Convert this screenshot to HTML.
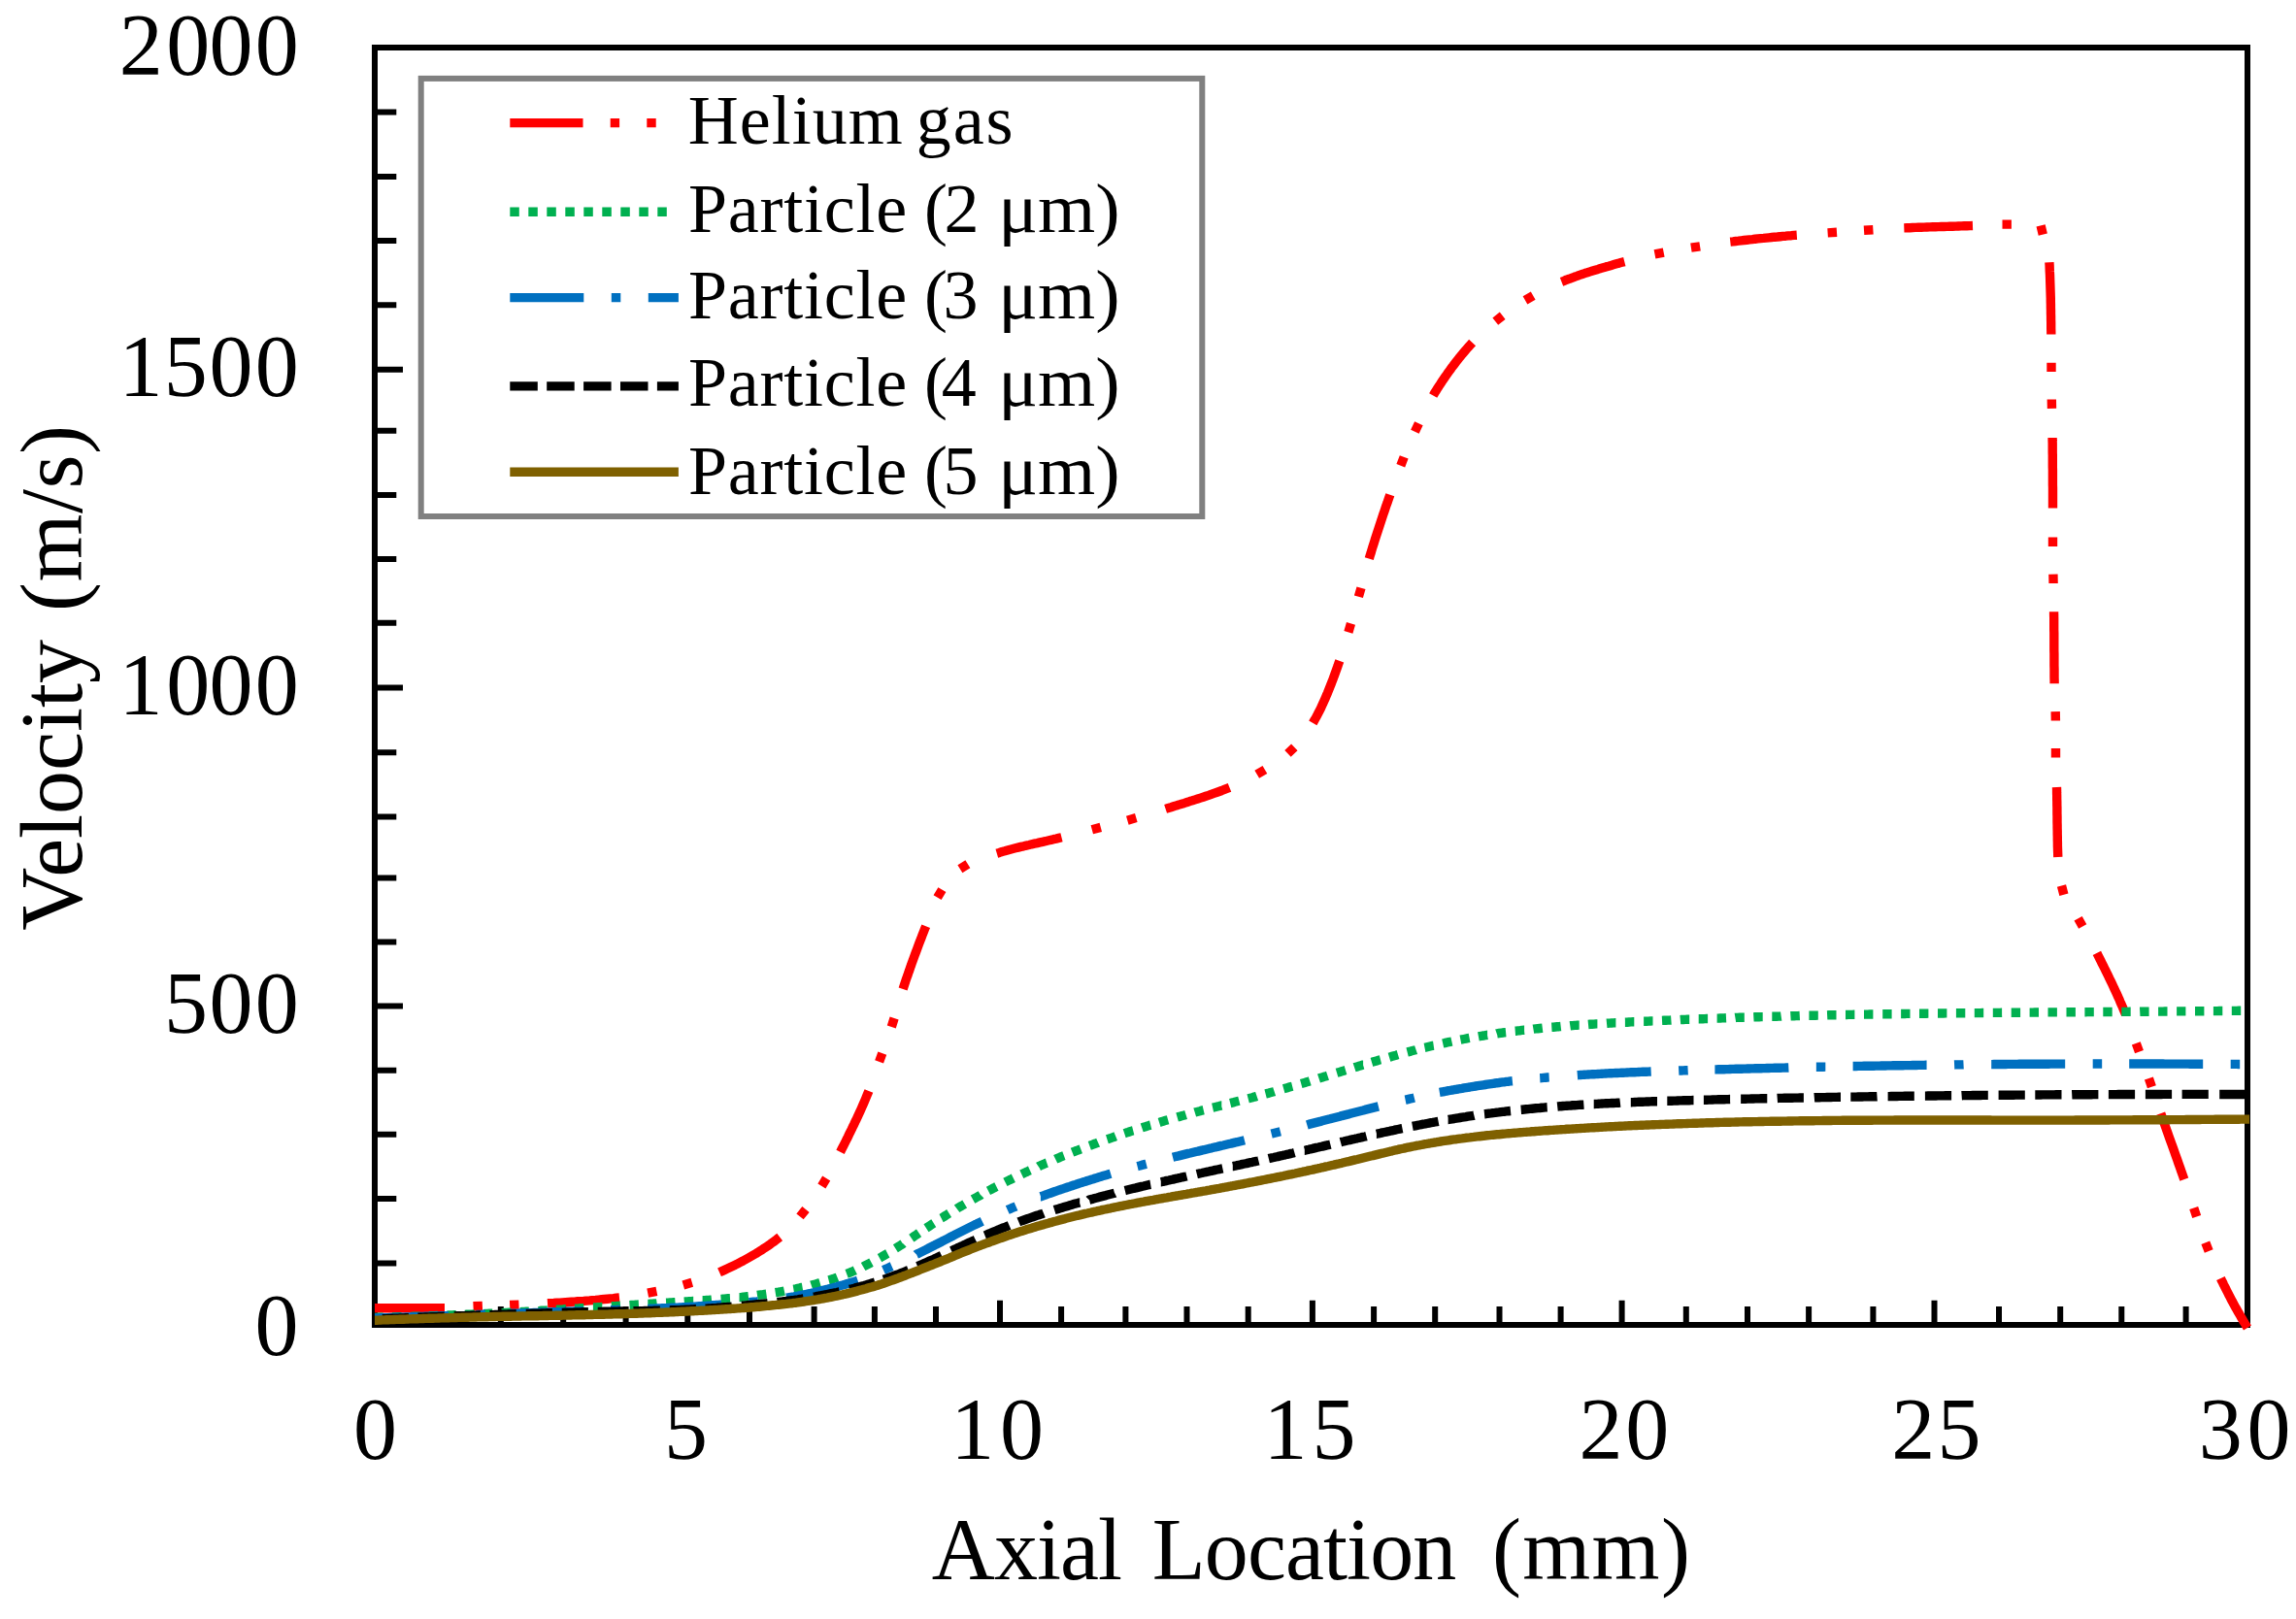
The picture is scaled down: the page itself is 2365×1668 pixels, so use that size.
<!DOCTYPE html>
<html lang="en">
<head>
<meta charset="utf-8">
<title>Velocity vs axial location</title>
<style>html,body{margin:0;padding:0;background:#fff}svg{display:block}</style>
</head>
<body>
<svg width="2365" height="1668" viewBox="0 0 2365 1668" role="img" aria-label="Velocity versus axial location">
<rect x="0" y="0" width="2365" height="1668" fill="#fff"/>
<g id="frame" fill="none" stroke="#000" stroke-width="6">
<rect x="386.0" y="49.0" width="1929.0" height="1316.0"/>
<path d="M386.0 115.6H408.3M386.0 182.0H408.3M386.0 247.9H408.3M386.0 314.2H408.3M386.0 380.7H415.0M386.0 443.7H408.3M386.0 510.0H408.3M386.0 575.9H408.3M386.0 641.8H408.3M386.0 708.4H415.0M386.0 775.2H408.3M386.0 841.5H408.3M386.0 904.5H408.3M386.0 970.5H408.3M386.0 1036.4H415.0M386.0 1102.8H408.3M386.0 1168.7H408.3M386.0 1235.0H408.3M386.0 1301.4H408.3M451.0 1365.0V1346.0M515.8 1365.0V1346.0M580.2 1365.0V1346.0M644.6 1365.0V1346.0M708.3 1365.0V1339.8M772.0 1365.0V1346.0M838.6 1365.0V1346.0M900.9 1365.0V1346.0M964.0 1365.0V1346.0M1030.0 1365.0V1339.8M1093.1 1365.0V1346.0M1159.4 1365.0V1346.0M1222.5 1365.0V1346.0M1285.7 1365.0V1346.0M1351.9 1365.0V1339.8M1415.1 1365.0V1346.0M1478.2 1365.0V1346.0M1544.5 1365.0V1346.0M1607.6 1365.0V1346.0M1670.6 1365.0V1339.8M1736.8 1365.0V1346.0M1800.0 1365.0V1346.0M1863.1 1365.0V1346.0M1929.4 1365.0V1346.0M1992.5 1365.0V1339.8M2059.0 1365.0V1346.0M2122.2 1365.0V1346.0M2185.3 1365.0V1346.0M2251.6 1365.0V1346.0"/>
</g>
<g id="curves" fill="none" stroke-width="9.4" stroke-linejoin="round">
<path id="helium" stroke="#ff0000" d="M386.0 1347.8 L389.0 1347.8 L392.0 1347.8 L395.0 1347.8 L398.0 1347.8 L401.0 1347.8 L404.0 1347.8 L407.0 1347.8 L410.0 1347.8 L413.0 1347.8 L416.0 1347.8 L419.0 1347.8 L422.0 1347.8 L425.0 1347.7 L428.0 1347.7 L431.0 1347.7 L434.0 1347.7 L437.0 1347.7 L440.0 1347.7 L443.0 1347.7 L446.0 1347.7 L449.0 1347.6 L452.0 1347.6 L455.0 1347.6 L458.0 1347.6 M487.5 1345.8 L496.9 1345.4 M525.1 1344.5 L534.5 1344.1 M564.0 1342.8 L567.1 1342.6 L570.2 1342.5 L573.3 1342.3 L576.4 1342.1 L579.4 1341.9 L582.5 1341.7 L585.6 1341.5 L588.7 1341.3 L591.8 1341.1 L594.9 1340.8 L598.0 1340.6 L601.1 1340.4 L604.2 1340.1 L607.2 1339.9 L610.3 1339.6 L613.4 1339.4 L616.5 1339.1 L619.6 1338.8 L622.6 1338.5 L625.7 1338.2 L628.8 1337.9 L631.9 1337.6 L634.9 1337.2 L638.0 1336.9 M667.2 1332.2 L676.4 1330.4 M703.8 1323.9 L712.8 1321.3 M741.0 1310.8 L743.7 1309.6 L746.4 1308.4 L749.2 1307.1 L751.9 1305.8 L754.6 1304.5 L757.3 1303.2 L760.0 1301.8 L762.7 1300.4 L765.4 1299.0 L768.1 1297.5 L770.8 1296.0 L773.4 1294.5 L776.0 1293.0 L778.7 1291.5 L781.2 1289.9 L783.8 1288.3 L786.3 1286.6 L788.9 1285.0 L791.3 1283.3 L793.8 1281.6 L796.2 1279.8 L798.6 1278.1 L800.9 1276.3 L803.2 1274.5 M824.0 1253.4 L830.0 1246.0 M846.4 1222.0 L851.2 1214.0 M865.6 1186.8 L866.9 1184.2 L868.2 1181.6 L869.5 1179.1 L870.8 1176.5 L872.1 1173.9 L873.4 1171.3 L874.6 1168.7 L875.9 1166.1 L877.2 1163.5 L878.4 1160.9 L879.7 1158.3 L880.9 1155.7 L882.2 1153.1 L883.4 1150.5 L884.6 1147.8 L885.8 1145.2 L887.0 1142.6 L888.2 1139.9 L889.3 1137.3 L890.5 1134.6 L891.6 1132.0 L892.7 1129.3 L893.8 1126.7 L894.9 1124.0 M905.6 1093.9 L908.8 1085.1 M918.3 1058.0 L921.1 1049.0 M930.1 1019.0 L931.0 1016.3 L931.9 1013.5 L932.8 1010.8 L933.7 1008.1 L934.7 1005.4 L935.6 1002.7 L936.6 1000.0 L937.5 997.2 L938.5 994.5 L939.4 991.8 L940.4 989.1 L941.4 986.4 L942.4 983.7 L943.4 981.0 L944.4 978.3 L945.4 975.6 L946.4 972.9 L947.4 970.3 L948.5 967.6 L949.5 964.9 L950.5 962.2 L951.6 959.5 L952.6 956.9 L953.7 954.2 M965.6 924.7 L970.4 916.7 M988.9 895.3 L996.9 890.3 M1026.8 879.2 L1029.5 878.4 L1032.2 877.5 L1035.0 876.8 L1037.7 876.0 L1040.5 875.2 L1043.2 874.5 L1046.0 873.8 L1048.8 873.1 L1051.6 872.4 L1054.4 871.8 L1057.2 871.1 L1060.0 870.5 L1062.7 869.8 L1065.5 869.2 L1068.4 868.6 L1071.2 867.9 L1074.0 867.3 L1076.8 866.7 L1079.6 866.0 L1082.4 865.4 L1085.1 864.7 L1087.9 864.1 L1090.7 863.4 L1093.5 862.7 M1124.8 854.8 L1133.8 852.4 M1161.3 845.2 L1170.3 842.6 M1200.6 833.4 L1203.4 832.5 L1206.1 831.7 L1208.9 830.8 L1211.7 829.9 L1214.4 829.1 L1217.2 828.2 L1220.0 827.4 L1222.8 826.5 L1225.5 825.6 L1228.3 824.8 L1231.1 823.9 L1233.8 823.0 L1236.6 822.1 L1239.4 821.2 L1242.1 820.3 L1244.9 819.4 L1247.6 818.4 L1250.3 817.4 L1253.0 816.5 L1255.8 815.5 L1258.5 814.5 L1261.2 813.4 L1263.8 812.4 L1266.5 811.3 M1294.7 797.8 L1302.9 793.0 M1326.5 776.3 L1333.3 769.9 M1352.3 744.9 L1353.7 742.4 L1355.1 740.0 L1356.5 737.5 L1357.8 734.9 L1359.1 732.3 L1360.4 729.8 L1361.6 727.1 L1362.8 724.5 L1364.0 721.8 L1365.2 719.2 L1366.3 716.5 L1367.5 713.8 L1368.6 711.1 L1369.7 708.3 L1370.8 705.6 L1371.8 702.9 L1372.9 700.1 L1373.9 697.4 L1374.9 694.6 L1375.9 691.9 L1376.9 689.1 L1377.9 686.4 L1378.8 683.6 L1379.8 680.9 M1388.9 651.4 L1391.5 642.4 M1399.4 614.8 L1402.0 605.8 M1410.3 575.6 L1411.1 572.8 L1412.0 570.1 L1412.8 567.3 L1413.6 564.5 L1414.5 561.8 L1415.4 559.0 L1416.2 556.3 L1417.1 553.5 L1418.0 550.8 L1418.9 548.0 L1419.8 545.3 L1420.7 542.5 L1421.6 539.8 L1422.5 537.0 L1423.4 534.3 L1424.3 531.6 L1425.2 528.8 L1426.2 526.1 L1427.1 523.3 L1428.0 520.6 L1429.0 517.9 L1429.9 515.2 L1430.9 512.4 L1431.8 509.7 M1442.8 479.7 L1446.2 470.9 M1457.4 444.8 L1461.4 436.2 M1476.2 407.5 L1477.6 405.1 L1479.1 402.7 L1480.6 400.3 L1482.1 397.9 L1483.7 395.6 L1485.2 393.2 L1486.8 390.8 L1488.4 388.5 L1490.1 386.1 L1491.7 383.8 L1493.4 381.5 L1495.0 379.2 L1496.8 376.9 L1498.5 374.6 L1500.2 372.4 L1502.0 370.1 L1503.7 367.9 L1505.5 365.7 L1507.3 363.6 L1509.2 361.4 L1511.0 359.3 L1512.9 357.1 L1514.7 355.1 L1516.6 353.0 M1540.3 331.1 L1547.7 325.3 M1571.0 309.4 L1579.2 304.6 M1608.5 290.3 L1611.1 289.3 L1613.7 288.2 L1616.4 287.3 L1619.0 286.3 L1621.7 285.3 L1624.4 284.4 L1627.0 283.4 L1629.7 282.5 L1632.4 281.6 L1635.1 280.8 L1637.8 279.9 L1640.5 279.0 L1643.2 278.2 L1646.0 277.4 L1648.7 276.5 L1651.4 275.7 L1654.2 274.9 L1656.9 274.2 L1659.6 273.4 L1662.4 272.6 L1665.1 271.8 L1667.8 271.1 L1670.6 270.3 L1673.3 269.6 M1704.5 261.9 L1713.7 260.1 M1741.9 255.2 L1751.1 253.8 M1782.3 249.2 L1785.1 248.9 L1788.0 248.5 L1790.8 248.2 L1793.7 247.8 L1796.5 247.5 L1799.4 247.2 L1802.2 246.9 L1805.1 246.6 L1807.9 246.2 L1810.8 245.9 L1813.7 245.6 L1816.5 245.4 L1819.4 245.1 L1822.2 244.8 L1825.1 244.5 L1827.9 244.2 L1830.8 244.0 L1833.7 243.7 L1836.5 243.4 L1839.4 243.2 L1842.2 242.9 L1845.1 242.7 L1847.9 242.4 L1850.8 242.2 M1882.6 239.9 L1892.0 239.3 M1920.0 237.3 L1929.4 236.7 M1961.3 234.9 L1964.2 234.8 L1967.2 234.7 L1970.1 234.5 L1973.1 234.4 L1976.0 234.3 L1979.0 234.2 L1981.9 234.1 L1984.9 234.0 L1987.8 233.9 L1990.8 233.8 L1993.7 233.7 L1996.6 233.6 L1999.6 233.5 L2002.5 233.5 L2005.5 233.4 L2008.4 233.3 L2011.4 233.2 L2014.3 233.1 L2017.3 233.0 L2020.2 232.9 L2023.2 232.8 L2026.1 232.7 L2029.1 232.6 L2032.0 232.5 M2062.5 231.1 L2071.9 231.1 M2102.1 232.4 L2104.3 241.6 M2110.9 270.3 L2111.1 273.4 L2111.2 276.4 L2111.3 279.5 L2111.5 282.6 L2111.6 285.7 L2111.7 288.8 L2111.8 291.9 L2111.9 295.0 L2112.0 298.1 L2112.1 301.2 L2112.2 304.3 L2112.3 307.4 L2112.3 310.5 L2112.4 313.6 L2112.4 316.7 L2112.5 319.8 L2112.5 322.9 L2112.6 326.0 L2112.6 329.1 L2112.7 332.2 L2112.7 335.3 L2112.7 338.4 L2112.8 341.5 L2112.8 344.6 M2113.0 373.7 L2113.0 383.1 M2113.3 411.5 L2113.5 420.9 M2114.1 450.9 L2114.1 453.9 L2114.2 456.9 L2114.2 460.0 L2114.2 463.0 L2114.2 466.0 L2114.3 469.0 L2114.3 472.1 L2114.3 475.1 L2114.3 478.1 L2114.3 481.1 L2114.4 484.2 L2114.4 487.2 L2114.4 490.2 L2114.4 493.2 L2114.4 496.3 L2114.4 499.3 L2114.5 502.3 L2114.5 505.3 L2114.5 508.4 L2114.5 511.4 L2114.5 514.4 L2114.5 517.4 L2114.5 520.5 L2114.5 523.5 M2114.5 553.6 L2114.5 563.0 M2114.9 591.6 L2115.1 601.0 M2115.6 630.3 L2115.6 633.4 L2115.7 636.5 L2115.7 639.5 L2115.7 642.6 L2115.7 645.7 L2115.7 648.8 L2115.8 651.9 L2115.8 654.9 L2115.8 658.0 L2115.8 661.1 L2115.8 664.2 L2115.8 667.3 L2115.8 670.3 L2115.9 673.4 L2115.9 676.5 L2115.9 679.6 L2115.9 682.6 L2115.9 685.7 L2116.0 688.8 L2116.0 691.9 L2116.0 695.0 L2116.0 698.0 L2116.1 701.1 L2116.1 704.2 M2117.2 733.1 L2117.4 742.5 M2117.5 771.1 L2117.5 780.5 M2118.5 811.0 L2118.6 814.0 L2118.6 817.0 L2118.7 820.0 L2118.7 823.0 L2118.8 826.0 L2118.8 829.0 L2118.9 832.0 L2118.9 835.0 L2118.9 838.0 L2119.0 841.0 L2119.0 844.0 L2119.0 847.0 L2119.1 850.1 L2119.1 853.1 L2119.2 856.1 L2119.2 859.1 L2119.3 862.1 L2119.3 865.1 L2119.4 868.1 L2119.4 871.0 L2119.5 874.0 L2119.6 877.0 L2119.7 880.0 L2119.8 883.0 M2123.5 912.5 L2125.9 921.7 M2140.6 946.3 L2145.2 954.5 M2159.9 981.9 L2161.2 984.5 L2162.5 987.1 L2163.8 989.7 L2165.1 992.3 L2166.4 994.9 L2167.7 997.5 L2169.0 1000.1 L2170.3 1002.8 L2171.6 1005.4 L2172.8 1008.0 L2174.1 1010.6 L2175.4 1013.3 L2176.6 1015.9 L2177.8 1018.5 L2179.1 1021.2 L2180.3 1023.8 L2181.5 1026.5 L2182.7 1029.1 L2183.8 1031.8 L2185.0 1034.5 L2186.2 1037.2 L2187.3 1039.8 L2188.4 1042.5 L2189.5 1045.2 M2200.3 1074.8 L2203.5 1083.6 M2213.4 1110.9 L2216.4 1119.7 M2225.7 1147.1 L2226.7 1149.9 L2227.7 1152.8 L2228.7 1155.6 L2229.7 1158.4 L2230.7 1161.3 L2231.7 1164.1 L2232.7 1166.9 L2233.7 1169.8 L2234.7 1172.6 L2235.7 1175.4 L2236.8 1178.3 L2237.8 1181.1 L2238.8 1183.9 L2239.8 1186.8 L2240.8 1189.6 L2241.8 1192.4 L2242.8 1195.2 L2243.8 1198.1 L2244.8 1200.9 L2245.8 1203.7 L2246.8 1206.6 L2247.8 1209.4 L2248.8 1212.3 L2249.8 1215.1 M2259.7 1244.6 L2262.7 1253.6 M2271.8 1280.2 L2275.2 1289.0 M2287.4 1317.0 L2288.4 1319.2 L2289.5 1321.3 L2290.5 1323.5 L2291.6 1325.7 L2292.7 1327.8 L2293.8 1330.0 L2294.9 1332.1 L2296.0 1334.3 L2297.1 1336.4 L2298.2 1338.6 L2299.3 1340.7 L2300.5 1342.8 L2301.6 1345.0 L2302.8 1347.1 L2304.0 1349.2 L2305.2 1351.3 L2306.4 1353.4 L2307.6 1355.5 L2308.8 1357.6 L2310.0 1359.7 L2311.2 1361.8 L2312.5 1363.9 L2313.7 1365.9 L2315.0 1368.0"/>
<path id="p2" stroke="#00b050" d="M386.0 1357.4 L388.0 1357.4 L390.0 1357.3 L392.0 1357.3 L394.0 1357.2 L394.7 1357.2 M404.1 1357.0 L406.0 1356.9 L408.0 1356.9 L410.0 1356.8 L412.0 1356.7 L413.5 1356.7 M422.9 1356.4 L424.0 1356.4 L426.0 1356.3 L428.0 1356.3 L430.0 1356.2 L432.0 1356.1 L432.3 1356.1 M441.7 1355.8 L442.0 1355.8 L444.0 1355.7 L446.0 1355.6 L448.0 1355.6 L450.0 1355.5 L451.1 1355.5 M460.5 1355.1 L462.0 1355.0 L464.0 1355.0 L466.0 1354.9 L468.0 1354.8 L469.9 1354.7 M479.3 1354.4 L480.0 1354.3 L482.0 1354.2 L484.0 1354.2 L486.0 1354.1 L488.0 1354.0 L488.7 1354.0 M498.1 1353.6 L500.0 1353.5 L502.0 1353.4 L504.0 1353.3 L506.0 1353.2 L507.5 1353.1 M516.9 1352.7 L518.0 1352.6 L520.0 1352.5 L522.0 1352.4 L524.0 1352.3 L526.0 1352.2 L526.3 1352.2 M535.7 1351.7 L536.0 1351.7 L538.0 1351.5 L540.0 1351.4 L542.0 1351.3 L544.0 1351.2 L545.1 1351.1 M554.5 1350.6 L556.0 1350.5 L558.0 1350.3 L560.0 1350.2 L562.0 1350.1 L563.9 1350.0 M573.3 1349.4 L574.0 1349.3 L576.0 1349.2 L578.0 1349.1 L580.0 1349.0 L582.0 1348.8 L582.7 1348.8 M592.1 1348.2 L594.0 1348.1 L596.0 1348.0 L598.0 1347.8 L600.0 1347.7 L601.5 1347.6 M610.9 1347.0 L612.0 1347.0 L614.0 1346.9 L616.0 1346.7 L618.0 1346.6 L620.0 1346.5 L620.3 1346.5 M629.7 1345.8 L630.0 1345.8 L632.0 1345.7 L634.0 1345.6 L636.0 1345.4 L638.0 1345.3 L639.1 1345.2 M648.5 1344.6 L650.0 1344.5 L652.0 1344.4 L654.0 1344.3 L656.0 1344.1 L657.9 1344.0 M667.3 1343.4 L668.0 1343.4 L670.0 1343.2 L672.0 1343.1 L674.0 1343.0 L676.0 1342.9 L676.7 1342.8 M686.1 1342.2 L688.0 1342.1 L690.0 1342.0 L692.0 1341.9 L694.0 1341.7 L695.5 1341.6 M704.8 1341.1 L706.0 1341.0 L708.0 1340.9 L710.0 1340.7 L712.0 1340.6 L714.0 1340.5 L714.2 1340.5 M723.6 1339.8 L724.0 1339.8 L726.0 1339.7 L728.0 1339.5 L730.0 1339.4 L732.0 1339.2 L733.0 1339.1 M742.6 1338.4 L744.0 1338.3 L746.0 1338.1 L748.0 1337.9 L750.0 1337.7 L752.0 1337.6 M761.5 1336.6 L762.0 1336.6 L764.0 1336.4 L766.0 1336.1 L768.0 1335.9 L770.0 1335.7 L770.9 1335.6 M780.0 1334.5 L782.0 1334.2 L784.0 1333.9 L786.0 1333.7 L788.0 1333.4 L789.4 1333.2 M798.7 1331.7 L800.0 1331.5 L802.0 1331.2 L804.0 1330.8 L806.0 1330.5 L807.9 1330.1 M817.4 1328.3 L818.0 1328.2 L820.0 1327.8 L822.0 1327.3 L824.0 1326.9 L826.0 1326.4 L826.6 1326.3 M835.7 1324.1 L836.0 1324.0 L838.0 1323.5 L840.0 1323.0 L842.0 1322.4 L844.0 1321.9 L844.7 1321.7 M853.6 1319.0 L854.0 1318.9 L856.0 1318.2 L858.0 1317.6 L860.0 1316.9 L862.0 1316.2 L862.5 1316.0 M872.1 1312.4 L874.0 1311.7 L876.0 1310.9 L878.0 1310.0 L880.0 1309.2 L880.8 1308.8 M889.1 1305.0 L890.0 1304.5 L892.0 1303.5 L894.0 1302.5 L896.0 1301.5 L897.5 1300.7 M906.0 1296.1 L908.0 1295.0 L910.0 1293.8 L912.0 1292.7 L914.0 1291.5 L914.2 1291.4 M922.4 1286.3 L924.0 1285.3 L926.0 1284.0 L928.0 1282.8 L930.0 1281.5 L930.3 1281.2 M938.8 1275.6 L940.0 1274.8 L942.0 1273.4 L944.0 1272.1 L946.0 1270.7 L946.6 1270.3 M954.0 1265.3 L954.0 1265.3 L956.0 1264.0 L958.0 1262.7 L960.0 1261.3 L961.8 1260.2 M969.6 1255.1 L970.0 1254.9 L972.0 1253.6 L974.0 1252.4 L976.0 1251.1 L977.6 1250.1 M985.6 1245.3 L986.0 1245.0 L988.0 1243.8 L990.0 1242.6 L992.0 1241.5 L993.7 1240.5 M1002.0 1235.7 L1004.0 1234.6 L1006.0 1233.5 L1008.0 1232.4 L1010.0 1231.3 L1010.2 1231.1 M1018.0 1226.9 L1020.0 1225.9 L1022.0 1224.8 L1024.0 1223.8 L1026.0 1222.7 L1026.4 1222.5 M1035.4 1217.9 L1036.0 1217.6 L1038.0 1216.6 L1040.0 1215.6 L1042.0 1214.7 L1043.8 1213.8 M1052.3 1209.7 L1054.0 1208.9 L1056.0 1208.0 L1058.0 1207.1 L1060.0 1206.1 L1060.9 1205.7 M1069.7 1201.8 L1070.0 1201.6 L1072.0 1200.7 L1074.0 1199.9 L1076.0 1199.0 L1078.0 1198.1 L1078.3 1198.0 M1087.2 1194.3 L1088.0 1193.9 L1090.0 1193.1 L1092.0 1192.2 L1094.0 1191.4 L1095.9 1190.7 M1104.5 1187.2 L1106.0 1186.6 L1108.0 1185.8 L1110.0 1185.1 L1112.0 1184.3 L1113.3 1183.8 M1122.3 1180.4 L1124.0 1179.8 L1126.0 1179.0 L1128.0 1178.3 L1130.0 1177.6 L1131.1 1177.1 M1140.4 1173.8 L1142.0 1173.3 L1144.0 1172.6 L1146.0 1171.9 L1148.0 1171.2 L1149.2 1170.7 M1158.2 1167.7 L1160.0 1167.1 L1162.0 1166.5 L1164.0 1165.8 L1166.0 1165.1 L1167.2 1164.8 M1176.2 1161.9 L1178.0 1161.3 L1180.0 1160.7 L1182.0 1160.1 L1184.0 1159.4 L1185.2 1159.1 M1194.1 1156.4 L1196.0 1155.8 L1198.0 1155.2 L1200.0 1154.6 L1202.0 1154.0 L1203.1 1153.7 M1212.6 1151.0 L1214.0 1150.6 L1216.0 1150.1 L1218.0 1149.5 L1220.0 1149.0 L1221.6 1148.5 M1230.7 1146.1 L1232.0 1145.7 L1234.0 1145.2 L1236.0 1144.7 L1238.0 1144.1 L1239.7 1143.7 M1249.1 1141.2 L1250.0 1141.0 L1252.0 1140.5 L1254.0 1140.0 L1256.0 1139.5 L1258.0 1138.9 L1258.3 1138.9 M1267.2 1136.6 L1268.0 1136.4 L1270.0 1135.9 L1272.0 1135.3 L1274.0 1134.8 L1276.0 1134.3 L1276.4 1134.2 M1285.6 1131.8 L1286.0 1131.7 L1288.0 1131.2 L1290.0 1130.7 L1292.0 1130.1 L1294.0 1129.6 L1294.6 1129.4 M1303.6 1127.0 L1304.0 1126.9 L1306.0 1126.4 L1308.0 1125.8 L1310.0 1125.2 L1312.0 1124.7 L1312.6 1124.5 M1322.2 1121.8 L1324.0 1121.3 L1326.0 1120.7 L1328.0 1120.1 L1330.0 1119.5 L1331.2 1119.2 M1340.2 1116.5 L1342.0 1116.0 L1344.0 1115.4 L1346.0 1114.8 L1348.0 1114.2 L1349.2 1113.8 M1358.5 1111.0 L1360.0 1110.5 L1362.0 1109.9 L1364.0 1109.3 L1366.0 1108.7 L1367.5 1108.2 M1377.0 1105.3 L1378.0 1105.0 L1380.0 1104.4 L1382.0 1103.8 L1384.0 1103.2 L1386.0 1102.6 M1395.1 1099.8 L1396.0 1099.5 L1398.0 1098.9 L1400.0 1098.3 L1402.0 1097.7 L1404.0 1097.1 L1404.1 1097.1 M1413.0 1094.4 L1414.0 1094.1 L1416.0 1093.5 L1418.0 1092.9 L1420.0 1092.3 L1422.0 1091.8 L1422.0 1091.8 M1431.0 1089.2 L1432.0 1088.9 L1434.0 1088.3 L1436.0 1087.7 L1438.0 1087.2 L1440.0 1086.6 L1440.0 1086.6 M1449.6 1084.0 L1450.0 1083.9 L1452.0 1083.4 L1454.0 1082.8 L1456.0 1082.3 L1458.0 1081.8 L1458.6 1081.6 M1467.5 1079.4 L1468.0 1079.3 L1470.0 1078.8 L1472.0 1078.3 L1474.0 1077.8 L1476.0 1077.3 L1476.7 1077.2 M1486.2 1075.0 L1488.0 1074.6 L1490.0 1074.1 L1492.0 1073.7 L1494.0 1073.3 L1495.4 1073.0 M1504.4 1071.2 L1506.0 1070.9 L1508.0 1070.5 L1510.0 1070.1 L1512.0 1069.7 L1513.6 1069.4 M1522.9 1067.8 L1524.0 1067.6 L1526.0 1067.3 L1528.0 1067.0 L1530.0 1066.7 L1532.0 1066.3 L1532.1 1066.3 M1541.7 1064.9 L1542.0 1064.8 L1544.0 1064.5 L1546.0 1064.3 L1548.0 1064.0 L1550.0 1063.7 L1551.1 1063.6 M1560.7 1062.3 L1562.0 1062.2 L1564.0 1061.9 L1566.0 1061.7 L1568.0 1061.4 L1570.0 1061.2 L1570.1 1061.2 M1579.4 1060.2 L1580.0 1060.1 L1582.0 1059.9 L1584.0 1059.7 L1586.0 1059.5 L1588.0 1059.3 L1588.8 1059.2 M1598.3 1058.3 L1600.0 1058.2 L1602.0 1058.0 L1604.0 1057.8 L1606.0 1057.7 L1607.7 1057.5 M1617.3 1056.8 L1618.0 1056.7 L1620.0 1056.6 L1622.0 1056.4 L1624.0 1056.3 L1626.0 1056.1 L1626.7 1056.1 M1636.0 1055.5 L1638.0 1055.3 L1640.0 1055.2 L1642.0 1055.1 L1644.0 1054.9 L1645.4 1054.9 M1655.0 1054.3 L1656.0 1054.2 L1658.0 1054.1 L1660.0 1054.0 L1662.0 1053.9 L1664.0 1053.8 L1664.4 1053.8 M1673.9 1053.3 L1674.0 1053.3 L1676.0 1053.2 L1678.0 1053.0 L1680.0 1052.9 L1682.0 1052.8 L1683.3 1052.8 M1693.1 1052.3 L1694.0 1052.3 L1696.0 1052.2 L1698.0 1052.1 L1700.0 1052.0 L1702.0 1051.9 L1702.5 1051.9 M1712.0 1051.4 L1714.0 1051.3 L1716.0 1051.2 L1718.0 1051.1 L1720.0 1051.1 L1721.4 1051.0 M1730.8 1050.6 L1732.0 1050.5 L1734.0 1050.5 L1736.0 1050.4 L1738.0 1050.3 L1740.0 1050.2 L1740.2 1050.2 M1749.7 1049.8 L1750.0 1049.8 L1752.0 1049.7 L1754.0 1049.7 L1756.0 1049.6 L1758.0 1049.5 L1759.1 1049.5 M1768.6 1049.1 L1770.0 1049.1 L1772.0 1049.0 L1774.0 1048.9 L1776.0 1048.9 L1778.0 1048.8 M1787.4 1048.5 L1788.0 1048.4 L1790.0 1048.4 L1792.0 1048.3 L1794.0 1048.2 L1796.0 1048.2 L1796.8 1048.2 M1806.3 1047.9 L1808.0 1047.8 L1810.0 1047.7 L1812.0 1047.7 L1814.0 1047.6 L1815.7 1047.6 M1825.3 1047.3 L1826.0 1047.3 L1828.0 1047.2 L1830.0 1047.2 L1832.0 1047.1 L1834.0 1047.1 L1834.7 1047.0 M1844.4 1046.8 L1846.0 1046.7 L1848.0 1046.7 L1850.0 1046.6 L1852.0 1046.6 L1853.8 1046.5 M1863.4 1046.3 L1864.0 1046.3 L1866.0 1046.2 L1868.0 1046.2 L1870.0 1046.2 L1872.0 1046.1 L1872.8 1046.1 M1882.1 1045.9 L1884.0 1045.8 L1886.0 1045.8 L1888.0 1045.8 L1890.0 1045.7 L1891.5 1045.7 M1901.0 1045.5 L1902.0 1045.5 L1904.0 1045.4 L1906.0 1045.4 L1908.0 1045.4 L1910.0 1045.3 L1910.4 1045.3 M1920.0 1045.1 L1922.0 1045.1 L1924.0 1045.1 L1926.0 1045.0 L1928.0 1045.0 L1929.4 1045.0 M1939.2 1044.8 L1940.0 1044.8 L1942.0 1044.8 L1944.0 1044.7 L1946.0 1044.7 L1948.0 1044.7 L1948.6 1044.7 M1958.1 1044.5 L1960.0 1044.5 L1962.0 1044.5 L1964.0 1044.4 L1966.0 1044.4 L1967.5 1044.4 M1977.0 1044.2 L1978.0 1044.2 L1980.0 1044.2 L1982.0 1044.2 L1984.0 1044.2 L1986.0 1044.1 L1986.4 1044.1 M1996.0 1044.0 L1996.0 1044.0 L1998.0 1044.0 L2000.0 1044.0 L2002.0 1044.0 L2004.0 1043.9 L2005.4 1043.9 M2014.9 1043.8 L2016.0 1043.8 L2018.0 1043.8 L2020.0 1043.8 L2022.0 1043.7 L2024.0 1043.7 L2024.3 1043.7 M2033.8 1043.6 L2034.0 1043.6 L2036.0 1043.6 L2038.0 1043.6 L2040.0 1043.6 L2042.0 1043.5 L2043.2 1043.5 M2052.8 1043.4 L2054.0 1043.4 L2056.0 1043.4 L2058.0 1043.4 L2060.0 1043.4 L2062.0 1043.3 L2062.1 1043.3 M2071.7 1043.3 L2072.0 1043.3 L2074.0 1043.2 L2076.0 1043.2 L2078.0 1043.2 L2080.0 1043.2 L2081.1 1043.2 M2090.6 1043.1 L2092.0 1043.1 L2094.0 1043.1 L2096.0 1043.0 L2098.0 1043.0 L2100.0 1043.0 L2100.0 1043.0 M2109.5 1042.9 L2110.0 1042.9 L2112.0 1042.9 L2114.0 1042.9 L2116.0 1042.9 L2118.0 1042.9 L2118.9 1042.9 M2128.5 1042.8 L2130.0 1042.8 L2132.0 1042.8 L2134.0 1042.8 L2136.0 1042.7 L2137.9 1042.7 M2147.4 1042.7 L2148.0 1042.7 L2150.0 1042.6 L2152.0 1042.6 L2154.0 1042.6 L2156.0 1042.6 L2156.8 1042.6 M2166.3 1042.5 L2168.0 1042.5 L2170.0 1042.5 L2172.0 1042.5 L2174.0 1042.5 L2175.7 1042.5 M2185.3 1042.4 L2186.0 1042.4 L2188.0 1042.4 L2190.0 1042.4 L2192.0 1042.4 L2194.0 1042.3 L2194.7 1042.3 M2204.2 1042.3 L2206.0 1042.2 L2208.0 1042.2 L2210.0 1042.2 L2212.0 1042.2 L2213.6 1042.2 M2223.1 1042.1 L2224.0 1042.1 L2226.0 1042.1 L2228.0 1042.1 L2230.0 1042.0 L2232.0 1042.0 L2232.5 1042.0 M2242.1 1041.9 L2244.0 1041.9 L2246.0 1041.9 L2248.0 1041.9 L2250.0 1041.9 L2251.4 1041.9 M2261.0 1041.8 L2262.0 1041.8 L2264.0 1041.7 L2266.0 1041.7 L2268.0 1041.7 L2270.0 1041.7 L2270.4 1041.7 M2279.9 1041.6 L2280.0 1041.6 L2282.0 1041.6 L2284.0 1041.6 L2286.0 1041.5 L2288.0 1041.5 L2289.3 1041.5 M2298.8 1041.4 L2300.0 1041.4 L2302.0 1041.4 L2304.0 1041.4 L2306.0 1041.3 L2308.0 1041.3 L2308.2 1041.3"/>
<path id="p3" stroke="#0070c0" stroke-dasharray="76 28.5 9.5 60" d="M386.0 1358.0 L388.0 1358.0 L390.0 1357.9 L392.0 1357.8 L394.0 1357.8 L396.0 1357.7 L398.0 1357.6 L400.0 1357.6 L402.0 1357.5 L404.0 1357.5 L406.0 1357.4 L408.0 1357.3 L410.0 1357.3 L412.0 1357.2 L414.0 1357.1 L416.0 1357.1 L418.0 1357.0 L420.0 1356.9 L422.0 1356.9 L424.0 1356.8 L426.0 1356.7 L428.0 1356.7 L430.0 1356.6 L432.0 1356.5 L434.0 1356.5 L436.0 1356.4 L438.0 1356.3 L440.0 1356.3 L442.0 1356.2 L444.0 1356.2 L446.0 1356.1 L448.0 1356.0 L450.0 1356.0 L452.0 1355.9 L454.0 1355.8 L456.0 1355.8 L458.0 1355.7 L460.0 1355.6 L462.0 1355.6 L464.0 1355.5 L466.0 1355.4 L468.0 1355.4 L470.0 1355.3 L472.0 1355.2 L474.0 1355.1 L476.0 1355.1 L478.0 1355.0 L480.0 1354.9 L482.0 1354.9 L484.0 1354.8 L486.0 1354.7 L488.0 1354.7 L490.0 1354.6 L492.0 1354.5 L494.0 1354.5 L496.0 1354.4 L498.0 1354.3 L500.0 1354.3 L502.0 1354.2 L504.0 1354.1 L506.0 1354.1 L508.0 1354.0 L510.0 1353.9 L512.0 1353.9 L514.0 1353.8 L516.0 1353.7 L518.0 1353.6 L520.0 1353.6 L522.0 1353.5 L524.0 1353.4 L524.8 1353.4 M524.8 1353.4 L526.0 1353.4 L528.0 1353.3 L530.0 1353.2 L532.0 1353.2 L534.0 1353.1 L536.0 1353.0 L538.0 1352.9 L540.0 1352.9 L542.0 1352.8 L544.0 1352.7 L546.0 1352.7 L548.0 1352.6 L550.0 1352.5 L552.0 1352.5 L554.0 1352.4 L556.0 1352.3 L558.0 1352.2 L560.0 1352.2 L562.0 1352.1 L564.0 1352.0 L566.0 1352.0 L568.0 1351.9 L570.0 1351.8 L572.0 1351.7 L574.0 1351.7 L576.0 1351.6 L578.0 1351.5 L580.0 1351.5 L582.0 1351.4 L584.0 1351.3 L586.0 1351.2 L588.0 1351.2 L590.0 1351.1 L592.0 1351.0 L594.0 1351.0 L596.0 1350.9 L598.0 1350.8 L600.0 1350.7 L602.0 1350.7 L604.0 1350.6 L606.0 1350.5 L608.0 1350.5 L610.0 1350.4 L612.0 1350.3 L614.0 1350.2 L616.0 1350.2 L618.0 1350.1 L620.0 1350.0 L622.0 1350.0 L624.0 1349.9 L626.0 1349.8 L628.0 1349.8 L630.0 1349.7 L632.0 1349.6 L634.0 1349.6 L636.0 1349.5 L638.0 1349.4 L640.0 1349.4 L642.0 1349.3 L644.0 1349.2 L646.0 1349.2 L648.0 1349.1 L650.0 1349.0 L652.0 1349.0 L654.0 1348.9 L656.0 1348.8 L658.0 1348.7 L660.0 1348.7 L662.0 1348.6 L664.0 1348.5 L666.0 1348.4 L667.3 1348.4 M667.3 1348.4 L668.0 1348.4 L670.0 1348.3 L672.0 1348.2 L674.0 1348.1 L676.0 1348.0 L678.0 1348.0 L680.0 1347.9 L682.0 1347.8 L684.0 1347.7 L686.0 1347.6 L688.0 1347.5 L690.0 1347.4 L692.0 1347.3 L694.0 1347.2 L696.0 1347.2 L698.0 1347.1 L700.0 1347.0 L702.0 1346.9 L704.0 1346.7 L706.0 1346.6 L708.0 1346.5 L710.0 1346.4 L712.0 1346.3 L714.0 1346.2 L716.0 1346.1 L718.0 1345.9 L720.0 1345.8 L722.0 1345.7 L724.0 1345.5 L726.0 1345.4 L728.0 1345.3 L730.0 1345.1 L732.0 1345.0 L734.0 1344.8 L736.0 1344.7 L738.0 1344.5 L740.0 1344.4 L742.0 1344.2 L744.0 1344.1 L746.0 1343.9 L748.0 1343.8 L750.0 1343.6 L752.0 1343.4 L754.0 1343.3 L756.0 1343.1 L758.0 1342.9 L760.0 1342.8 L762.0 1342.6 L764.0 1342.4 L766.0 1342.2 L768.0 1342.0 L770.0 1341.9 L772.0 1341.7 L774.0 1341.5 L776.0 1341.3 L778.0 1341.1 L780.0 1340.9 L782.0 1340.6 L784.0 1340.4 L786.0 1340.2 L788.0 1340.0 L790.0 1339.8 L792.0 1339.5 L794.0 1339.3 L796.0 1339.0 L798.0 1338.8 L800.0 1338.5 L802.0 1338.2 L804.0 1338.0 L806.0 1337.7 L808.0 1337.4 L809.8 1337.1 M809.8 1337.1 L810.0 1337.1 L812.0 1336.8 L814.0 1336.5 L816.0 1336.1 L818.0 1335.8 L820.0 1335.4 L822.0 1335.1 L824.0 1334.7 L826.0 1334.3 L828.0 1333.9 L830.0 1333.5 L832.0 1333.1 L834.0 1332.7 L836.0 1332.2 L838.0 1331.8 L840.0 1331.3 L842.0 1330.8 L844.0 1330.4 L846.0 1329.9 L848.0 1329.4 L850.0 1328.9 L852.0 1328.4 L854.0 1327.8 L856.0 1327.3 L858.0 1326.8 L860.0 1326.2 L862.0 1325.7 L864.0 1325.1 L866.0 1324.5 L868.0 1324.0 L870.0 1323.4 L872.0 1322.8 L874.0 1322.2 L876.0 1321.6 L878.0 1321.0 L880.0 1320.4 L882.0 1319.8 L884.0 1319.1 L886.0 1318.4 L888.0 1317.7 L890.0 1316.9 L892.0 1316.2 L894.0 1315.4 L896.0 1314.6 L898.0 1313.7 L900.0 1312.9 L902.0 1312.0 L904.0 1311.1 L906.0 1310.3 L908.0 1309.4 L910.0 1308.5 L912.0 1307.6 L914.0 1306.7 L916.0 1305.8 L918.0 1304.9 L920.0 1304.0 L922.0 1303.1 L924.0 1302.1 L926.0 1301.2 L928.0 1300.2 L930.0 1299.2 L932.0 1298.2 L934.0 1297.3 L936.0 1296.3 L938.0 1295.3 L940.0 1294.3 L942.0 1293.3 L943.9 1292.4 M943.9 1292.4 L944.0 1292.3 L946.0 1291.4 L948.0 1290.4 L950.0 1289.4 L952.0 1288.4 L954.0 1287.4 L956.0 1286.3 L958.0 1285.3 L960.0 1284.3 L962.0 1283.3 L964.0 1282.2 L966.0 1281.2 L968.0 1280.2 L970.0 1279.2 L972.0 1278.1 L974.0 1277.1 L976.0 1276.1 L978.0 1275.0 L980.0 1274.0 L982.0 1273.0 L984.0 1271.9 L986.0 1270.9 L988.0 1269.9 L990.0 1268.9 L992.0 1267.9 L994.0 1266.9 L996.0 1265.9 L998.0 1264.9 L1000.0 1263.9 L1002.0 1262.9 L1004.0 1261.9 L1006.0 1261.0 L1008.0 1260.0 L1010.0 1259.1 L1012.0 1258.1 L1014.0 1257.2 L1016.0 1256.3 L1018.0 1255.3 L1020.0 1254.4 L1022.0 1253.5 L1024.0 1252.6 L1026.0 1251.7 L1028.0 1250.8 L1030.0 1249.9 L1032.0 1249.0 L1034.0 1248.2 L1036.0 1247.3 L1038.0 1246.4 L1040.0 1245.6 L1042.0 1244.7 L1044.0 1243.9 L1046.0 1243.1 L1048.0 1242.2 L1050.0 1241.4 L1052.0 1240.6 L1054.0 1239.8 L1056.0 1239.0 L1058.0 1238.2 L1060.0 1237.4 L1062.0 1236.6 L1064.0 1235.8 L1066.0 1235.0 L1068.0 1234.3 L1070.0 1233.5 L1071.9 1232.8 M1071.9 1232.8 L1072.0 1232.8 L1074.0 1232.1 L1076.0 1231.4 L1078.0 1230.6 L1080.0 1229.9 L1082.0 1229.2 L1084.0 1228.5 L1086.0 1227.8 L1088.0 1227.1 L1090.0 1226.4 L1092.0 1225.7 L1094.0 1225.1 L1096.0 1224.4 L1098.0 1223.7 L1100.0 1223.0 L1102.0 1222.4 L1104.0 1221.7 L1106.0 1221.0 L1108.0 1220.4 L1110.0 1219.7 L1112.0 1219.1 L1114.0 1218.4 L1116.0 1217.8 L1118.0 1217.2 L1120.0 1216.5 L1122.0 1215.9 L1124.0 1215.3 L1126.0 1214.7 L1128.0 1214.0 L1130.0 1213.4 L1132.0 1212.8 L1134.0 1212.2 L1136.0 1211.6 L1138.0 1211.0 L1140.0 1210.4 L1142.0 1209.8 L1144.0 1209.2 L1146.0 1208.6 L1148.0 1208.0 L1150.0 1207.5 L1152.0 1206.9 L1154.0 1206.4 L1156.0 1205.8 L1158.0 1205.2 L1160.0 1204.7 L1162.0 1204.2 L1164.0 1203.6 L1166.0 1203.1 L1168.0 1202.6 L1170.0 1202.0 L1172.0 1201.5 L1174.0 1201.0 L1176.0 1200.4 L1178.0 1199.9 L1180.0 1199.4 L1182.0 1198.9 L1184.0 1198.4 L1186.0 1197.8 L1188.0 1197.3 L1190.0 1196.8 L1192.0 1196.3 L1194.0 1195.8 L1196.0 1195.3 L1198.0 1194.8 L1200.0 1194.3 L1202.0 1193.8 L1204.0 1193.3 L1206.0 1192.8 L1208.0 1192.3 M1208.0 1192.3 L1210.0 1191.8 L1212.0 1191.3 L1214.0 1190.9 L1216.0 1190.4 L1218.0 1189.9 L1220.0 1189.4 L1222.0 1188.9 L1224.0 1188.4 L1226.0 1188.0 L1228.0 1187.5 L1230.0 1187.0 L1232.0 1186.5 L1234.0 1186.1 L1236.0 1185.6 L1238.0 1185.1 L1240.0 1184.7 L1242.0 1184.2 L1244.0 1183.7 L1246.0 1183.2 L1248.0 1182.8 L1250.0 1182.3 L1252.0 1181.8 L1254.0 1181.4 L1256.0 1180.9 L1258.0 1180.4 L1260.0 1180.0 L1262.0 1179.5 L1264.0 1179.0 L1266.0 1178.5 L1268.0 1178.1 L1270.0 1177.6 L1272.0 1177.1 L1274.0 1176.7 L1276.0 1176.2 L1278.0 1175.7 L1280.0 1175.2 L1282.0 1174.7 L1284.0 1174.3 L1286.0 1173.8 L1288.0 1173.3 L1290.0 1172.8 L1292.0 1172.4 L1294.0 1171.9 L1296.0 1171.4 L1298.0 1170.9 L1300.0 1170.4 L1302.0 1170.0 L1304.0 1169.5 L1306.0 1169.0 L1308.0 1168.5 L1310.0 1168.0 L1312.0 1167.5 L1314.0 1167.0 L1316.0 1166.5 L1318.0 1166.0 L1320.0 1165.5 L1322.0 1165.0 L1324.0 1164.5 L1326.0 1164.0 L1328.0 1163.5 L1330.0 1163.0 L1332.0 1162.5 L1334.0 1162.0 L1336.0 1161.5 L1338.0 1161.0 L1340.0 1160.5 L1342.0 1160.0 L1344.0 1159.5 L1346.0 1159.0 L1346.3 1158.9 M1346.3 1158.9 L1348.0 1158.4 L1350.0 1157.9 L1352.0 1157.4 L1354.0 1156.9 L1356.0 1156.4 L1358.0 1155.9 L1360.0 1155.4 L1362.0 1154.8 L1364.0 1154.3 L1366.0 1153.8 L1368.0 1153.3 L1370.0 1152.8 L1372.0 1152.2 L1374.0 1151.7 L1376.0 1151.2 L1378.0 1150.7 L1380.0 1150.2 L1382.0 1149.6 L1384.0 1149.1 L1386.0 1148.6 L1388.0 1148.1 L1390.0 1147.6 L1392.0 1147.0 L1394.0 1146.5 L1396.0 1146.0 L1398.0 1145.5 L1400.0 1145.0 L1402.0 1144.5 L1404.0 1144.0 L1406.0 1143.4 L1408.0 1142.9 L1410.0 1142.4 L1412.0 1141.9 L1414.0 1141.4 L1416.0 1140.9 L1418.0 1140.4 L1420.0 1139.9 L1422.0 1139.4 L1424.0 1138.9 L1426.0 1138.4 L1428.0 1137.9 L1430.0 1137.4 L1432.0 1136.9 L1434.0 1136.4 L1436.0 1135.9 L1438.0 1135.4 L1440.0 1135.0 L1442.0 1134.5 L1444.0 1134.0 L1446.0 1133.5 L1448.0 1133.1 L1450.0 1132.6 L1452.0 1132.1 L1454.0 1131.7 L1456.0 1131.2 L1458.0 1130.7 L1460.0 1130.3 L1462.0 1129.8 L1464.0 1129.4 L1466.0 1128.9 L1468.0 1128.5 L1470.0 1128.0 L1472.0 1127.6 L1474.0 1127.2 L1476.0 1126.8 L1478.0 1126.4 L1480.0 1126.0 L1482.0 1125.6 L1482.8 1125.4 M1482.8 1125.4 L1484.0 1125.2 L1486.0 1124.8 L1488.0 1124.5 L1490.0 1124.1 L1492.0 1123.7 L1494.0 1123.4 L1496.0 1123.0 L1498.0 1122.7 L1500.0 1122.3 L1502.0 1122.0 L1504.0 1121.6 L1506.0 1121.3 L1508.0 1120.9 L1510.0 1120.6 L1512.0 1120.3 L1514.0 1120.0 L1516.0 1119.6 L1518.0 1119.3 L1520.0 1119.0 L1522.0 1118.7 L1524.0 1118.4 L1526.0 1118.1 L1528.0 1117.8 L1530.0 1117.5 L1532.0 1117.2 L1534.0 1116.9 L1536.0 1116.6 L1538.0 1116.3 L1540.0 1116.0 L1542.0 1115.7 L1544.0 1115.5 L1546.0 1115.2 L1548.0 1114.9 L1550.0 1114.7 L1552.0 1114.4 L1554.0 1114.2 L1556.0 1113.9 L1558.0 1113.7 L1560.0 1113.4 L1562.0 1113.2 L1564.0 1113.0 L1566.0 1112.8 L1568.0 1112.5 L1570.0 1112.3 L1572.0 1112.1 L1574.0 1111.9 L1576.0 1111.7 L1578.0 1111.5 L1580.0 1111.3 L1582.0 1111.1 L1584.0 1110.9 L1586.0 1110.7 L1588.0 1110.6 L1590.0 1110.4 L1592.0 1110.2 L1594.0 1110.0 L1596.0 1109.9 L1598.0 1109.7 L1600.0 1109.5 L1602.0 1109.4 L1604.0 1109.2 L1606.0 1109.0 L1608.0 1108.9 L1610.0 1108.7 L1612.0 1108.6 L1614.0 1108.4 L1616.0 1108.3 L1618.0 1108.1 L1620.0 1108.0 L1622.0 1107.9 L1624.0 1107.7 L1624.8 1107.7 M1624.8 1107.7 L1626.0 1107.6 L1628.0 1107.5 L1630.0 1107.4 L1632.0 1107.2 L1634.0 1107.1 L1636.0 1107.0 L1638.0 1106.9 L1640.0 1106.8 L1642.0 1106.7 L1644.0 1106.6 L1646.0 1106.5 L1648.0 1106.4 L1650.0 1106.2 L1652.0 1106.1 L1654.0 1106.0 L1656.0 1105.9 L1658.0 1105.8 L1660.0 1105.7 L1662.0 1105.6 L1664.0 1105.5 L1666.0 1105.5 L1668.0 1105.4 L1670.0 1105.3 L1672.0 1105.2 L1674.0 1105.1 L1676.0 1105.0 L1678.0 1104.9 L1680.0 1104.8 L1682.0 1104.7 L1684.0 1104.7 L1686.0 1104.6 L1688.0 1104.5 L1690.0 1104.4 L1692.0 1104.3 L1694.0 1104.2 L1696.0 1104.2 L1698.0 1104.1 L1700.0 1104.0 L1702.0 1103.9 L1704.0 1103.9 L1706.0 1103.8 L1708.0 1103.7 L1710.0 1103.7 L1712.0 1103.6 L1714.0 1103.5 L1716.0 1103.5 L1718.0 1103.4 L1720.0 1103.3 L1722.0 1103.3 L1724.0 1103.2 L1726.0 1103.2 L1728.0 1103.1 L1730.0 1103.0 L1732.0 1103.0 L1734.0 1102.9 L1736.0 1102.8 L1738.0 1102.8 L1740.0 1102.7 L1742.0 1102.7 L1744.0 1102.6 L1746.0 1102.5 L1748.0 1102.5 L1750.0 1102.4 L1752.0 1102.4 L1754.0 1102.3 L1756.0 1102.2 L1758.0 1102.2 L1760.0 1102.1 L1762.0 1102.1 L1764.0 1102.0 L1766.0 1101.9 L1766.4 1101.9 M1766.4 1101.9 L1768.0 1101.9 L1770.0 1101.8 L1772.0 1101.8 L1774.0 1101.7 L1776.0 1101.7 L1778.0 1101.6 L1780.0 1101.6 L1782.0 1101.5 L1784.0 1101.4 L1786.0 1101.4 L1788.0 1101.3 L1790.0 1101.3 L1792.0 1101.2 L1794.0 1101.2 L1796.0 1101.1 L1798.0 1101.1 L1800.0 1101.0 L1802.0 1101.0 L1804.0 1100.9 L1806.0 1100.9 L1808.0 1100.8 L1810.0 1100.8 L1812.0 1100.7 L1814.0 1100.7 L1816.0 1100.6 L1818.0 1100.6 L1820.0 1100.5 L1822.0 1100.5 L1824.0 1100.4 L1826.0 1100.4 L1828.0 1100.3 L1830.0 1100.3 L1832.0 1100.2 L1834.0 1100.2 L1836.0 1100.1 L1838.0 1100.1 L1840.0 1100.0 L1842.0 1100.0 L1844.0 1099.9 L1846.0 1099.9 L1848.0 1099.8 L1850.0 1099.8 L1852.0 1099.7 L1854.0 1099.7 L1856.0 1099.6 L1858.0 1099.6 L1860.0 1099.5 L1862.0 1099.5 L1864.0 1099.5 L1866.0 1099.4 L1868.0 1099.4 L1870.0 1099.3 L1872.0 1099.3 L1874.0 1099.2 L1876.0 1099.2 L1878.0 1099.2 L1880.0 1099.1 L1882.0 1099.1 L1884.0 1099.0 L1886.0 1099.0 L1888.0 1098.9 L1890.0 1098.9 L1892.0 1098.9 L1894.0 1098.8 L1896.0 1098.8 L1898.0 1098.7 L1900.0 1098.7 L1902.0 1098.7 L1904.0 1098.6 L1906.0 1098.6 L1908.0 1098.6 L1908.6 1098.5 M1908.6 1098.5 L1910.0 1098.5 L1912.0 1098.5 L1914.0 1098.4 L1916.0 1098.4 L1918.0 1098.4 L1920.0 1098.3 L1922.0 1098.3 L1924.0 1098.3 L1926.0 1098.2 L1928.0 1098.2 L1930.0 1098.2 L1932.0 1098.1 L1934.0 1098.1 L1936.0 1098.1 L1938.0 1098.0 L1940.0 1098.0 L1942.0 1098.0 L1944.0 1097.9 L1946.0 1097.9 L1948.0 1097.9 L1950.0 1097.8 L1952.0 1097.8 L1954.0 1097.8 L1956.0 1097.7 L1958.0 1097.7 L1960.0 1097.7 L1962.0 1097.6 L1964.0 1097.6 L1966.0 1097.6 L1968.0 1097.6 L1970.0 1097.5 L1972.0 1097.5 L1974.0 1097.5 L1976.0 1097.4 L1978.0 1097.4 L1980.0 1097.4 L1982.0 1097.4 L1984.0 1097.3 L1986.0 1097.3 L1988.0 1097.3 L1990.0 1097.2 L1992.0 1097.2 L1994.0 1097.2 L1996.0 1097.2 L1998.0 1097.1 L2000.0 1097.1 L2002.0 1097.1 L2004.0 1097.1 L2006.0 1097.0 L2008.0 1097.0 L2010.0 1097.0 L2012.0 1097.0 L2014.0 1096.9 L2016.0 1096.9 L2018.0 1096.9 L2020.0 1096.9 L2022.0 1096.9 L2024.0 1096.8 L2026.0 1096.8 L2028.0 1096.8 L2030.0 1096.8 L2032.0 1096.7 L2034.0 1096.7 L2036.0 1096.7 L2038.0 1096.7 L2040.0 1096.7 L2042.0 1096.6 L2044.0 1096.6 L2046.0 1096.6 L2048.0 1096.6 L2050.0 1096.6 L2051.2 1096.6 M2051.2 1096.6 L2052.0 1096.6 L2054.0 1096.5 L2056.0 1096.5 L2058.0 1096.5 L2060.0 1096.5 L2062.0 1096.5 L2064.0 1096.5 L2066.0 1096.5 L2068.0 1096.4 L2070.0 1096.4 L2072.0 1096.4 L2074.0 1096.4 L2076.0 1096.4 L2078.0 1096.4 L2080.0 1096.3 L2082.0 1096.3 L2084.0 1096.3 L2086.0 1096.3 L2088.0 1096.3 L2090.0 1096.3 L2092.0 1096.3 L2094.0 1096.3 L2096.0 1096.2 L2098.0 1096.2 L2100.0 1096.2 L2102.0 1096.2 L2104.0 1096.2 L2106.0 1096.2 L2108.0 1096.2 L2110.0 1096.2 L2112.0 1096.1 L2114.0 1096.1 L2116.0 1096.1 L2118.0 1096.1 L2120.0 1096.1 L2122.0 1096.1 L2124.0 1096.1 L2126.0 1096.1 L2128.0 1096.1 L2130.0 1096.1 L2132.0 1096.1 L2134.0 1096.1 L2136.0 1096.1 L2138.0 1096.0 L2140.0 1096.0 L2142.0 1096.0 L2144.0 1096.0 L2146.0 1096.0 L2148.0 1096.0 L2150.0 1096.0 L2152.0 1096.0 L2154.0 1096.0 L2156.0 1096.0 L2158.0 1096.0 L2160.0 1096.0 L2162.0 1096.0 L2164.0 1096.0 L2166.0 1096.0 L2168.0 1096.0 L2170.0 1096.0 L2172.0 1096.0 L2174.0 1096.0 L2176.0 1096.0 L2178.0 1096.0 L2180.0 1096.0 L2182.0 1096.0 L2184.0 1096.0 L2186.0 1096.0 L2188.0 1096.0 L2190.0 1096.0 L2192.0 1096.0 L2193.2 1096.0 M2193.2 1096.0 L2194.0 1096.0 L2196.0 1096.0 L2198.0 1096.0 L2200.0 1096.0 L2202.0 1096.0 L2204.0 1096.0 L2206.0 1096.0 L2208.0 1096.0 L2210.0 1096.0 L2212.0 1096.0 L2214.0 1096.0 L2216.0 1096.0 L2218.0 1096.0 L2220.0 1096.0 L2222.0 1096.0 L2224.0 1096.0 L2226.0 1096.0 L2228.0 1096.0 L2230.0 1096.1 L2232.0 1096.1 L2234.0 1096.1 L2236.0 1096.1 L2238.0 1096.1 L2240.0 1096.1 L2242.0 1096.1 L2244.0 1096.1 L2246.0 1096.1 L2248.0 1096.1 L2250.0 1096.1 L2252.0 1096.1 L2254.0 1096.1 L2256.0 1096.2 L2258.0 1096.2 L2260.0 1096.2 L2262.0 1096.2 L2264.0 1096.2 L2266.0 1096.2 L2268.0 1096.2 L2270.0 1096.2 L2272.0 1096.2 L2274.0 1096.2 L2276.0 1096.2 L2278.0 1096.3 L2280.0 1096.3 L2282.0 1096.3 L2284.0 1096.3 L2286.0 1096.3 L2288.0 1096.3 L2290.0 1096.3 L2292.0 1096.4 L2294.0 1096.4 L2296.0 1096.4 L2298.0 1096.4 L2300.0 1096.4 L2302.0 1096.4 L2304.0 1096.4 L2306.0 1096.5 L2308.0 1096.5 L2310.0 1096.5 L2312.0 1096.5 L2314.0 1096.5 L2316.0 1096.5"/>
<path id="p4" stroke="#000" d="M393.7 1358.7 L394.0 1358.7 L396.0 1358.7 L398.0 1358.6 L400.0 1358.5 L402.0 1358.4 L404.0 1358.3 L406.0 1358.3 L408.0 1358.2 L410.0 1358.1 L412.0 1358.0 L414.0 1357.9 L416.0 1357.9 L418.0 1357.8 L420.0 1357.7 L420.9 1357.7 M430.7 1357.3 L432.0 1357.2 L434.0 1357.2 L436.0 1357.1 L438.0 1357.0 L440.0 1356.9 L442.0 1356.9 L444.0 1356.8 L446.0 1356.7 L448.0 1356.6 L450.0 1356.6 L452.0 1356.5 L454.0 1356.4 L456.0 1356.4 L457.9 1356.3 M467.7 1355.9 L468.0 1355.9 L470.0 1355.8 L472.0 1355.8 L474.0 1355.7 L476.0 1355.6 L478.0 1355.6 L480.0 1355.5 L482.0 1355.4 L484.0 1355.4 L486.0 1355.3 L488.0 1355.2 L490.0 1355.2 L492.0 1355.1 L494.0 1355.0 L494.9 1355.0 M504.7 1354.7 L506.0 1354.6 L508.0 1354.6 L510.0 1354.5 L512.0 1354.4 L514.0 1354.4 L516.0 1354.3 L518.0 1354.2 L520.0 1354.2 L522.0 1354.1 L524.0 1354.0 L526.0 1354.0 L528.0 1353.9 L530.0 1353.9 L531.9 1353.8 M541.7 1353.5 L542.0 1353.5 L544.0 1353.4 L546.0 1353.4 L548.0 1353.3 L550.0 1353.2 L552.0 1353.2 L554.0 1353.1 L556.0 1353.1 L558.0 1353.0 L560.0 1353.0 L562.0 1352.9 L564.0 1352.8 L566.0 1352.8 L568.0 1352.7 L568.9 1352.7 M578.7 1352.4 L580.0 1352.4 L582.0 1352.3 L584.0 1352.3 L586.0 1352.2 L588.0 1352.2 L590.0 1352.1 L592.0 1352.0 L594.0 1352.0 L596.0 1351.9 L598.0 1351.9 L600.0 1351.8 L602.0 1351.8 L604.0 1351.7 L605.9 1351.7 M615.7 1351.5 L616.0 1351.5 L618.0 1351.4 L620.0 1351.4 L622.0 1351.3 L624.0 1351.3 L626.0 1351.3 L628.0 1351.2 L630.0 1351.2 L632.0 1351.1 L634.0 1351.1 L636.0 1351.1 L638.0 1351.0 L640.0 1351.0 L642.0 1351.0 L642.9 1350.9 M652.7 1350.8 L654.0 1350.7 L656.0 1350.7 L658.0 1350.7 L660.0 1350.6 L662.0 1350.6 L664.0 1350.5 L666.0 1350.5 L668.0 1350.4 L670.0 1350.4 L672.0 1350.4 L674.0 1350.3 L676.0 1350.3 L678.0 1350.2 L679.9 1350.2 M689.7 1349.9 L690.0 1349.9 L692.0 1349.8 L694.0 1349.8 L696.0 1349.7 L698.0 1349.6 L700.0 1349.6 L702.0 1349.5 L704.0 1349.4 L706.0 1349.3 L708.0 1349.2 L710.0 1349.1 L712.0 1349.0 L714.0 1348.9 L716.0 1348.8 L716.9 1348.8 M726.7 1348.2 L728.0 1348.1 L730.0 1348.0 L732.0 1347.9 L734.0 1347.7 L736.0 1347.6 L738.0 1347.5 L740.0 1347.3 L742.0 1347.2 L744.0 1347.0 L746.0 1346.8 L748.0 1346.7 L750.0 1346.5 L752.0 1346.4 L753.9 1346.2 M763.8 1345.3 L764.0 1345.3 L766.0 1345.1 L768.0 1344.9 L770.0 1344.7 L772.0 1344.5 L774.0 1344.4 L776.0 1344.2 L778.0 1344.0 L780.0 1343.8 L782.0 1343.6 L784.0 1343.3 L786.0 1343.1 L788.0 1342.9 L790.0 1342.7 L790.8 1342.6 M800.8 1341.6 L802.0 1341.4 L804.0 1341.2 L806.0 1341.0 L808.0 1340.7 L810.0 1340.5 L812.0 1340.2 L814.0 1339.9 L816.0 1339.6 L818.0 1339.4 L820.0 1339.1 L822.0 1338.8 L824.0 1338.4 L826.0 1338.1 L827.7 1337.8 M837.9 1336.1 L838.0 1336.1 L840.0 1335.8 L842.0 1335.4 L844.0 1335.0 L846.0 1334.7 L848.0 1334.3 L850.0 1333.9 L852.0 1333.5 L854.0 1333.1 L856.0 1332.7 L858.0 1332.3 L860.0 1331.9 L862.0 1331.5 L864.0 1331.0 L864.6 1330.9 M875.1 1328.4 L876.0 1328.2 L878.0 1327.7 L880.0 1327.2 L882.0 1326.6 L884.0 1326.1 L886.0 1325.6 L888.0 1325.0 L890.0 1324.5 L892.0 1323.9 L894.0 1323.3 L896.0 1322.7 L898.0 1322.1 L900.0 1321.5 L901.3 1321.1 M910.2 1318.2 L912.0 1317.6 L914.0 1316.9 L916.0 1316.2 L918.0 1315.5 L920.0 1314.7 L922.0 1314.0 L924.0 1313.3 L926.0 1312.5 L928.0 1311.7 L930.0 1311.0 L932.0 1310.2 L934.0 1309.3 L935.7 1308.7 M945.1 1304.6 L946.0 1304.2 L948.0 1303.4 L950.0 1302.5 L952.0 1301.6 L954.0 1300.7 L956.0 1299.8 L958.0 1298.9 L960.0 1298.1 L962.0 1297.2 L964.0 1296.2 L966.0 1295.3 L968.0 1294.4 L969.9 1293.5 M980.1 1288.7 L982.0 1287.8 L984.0 1286.9 L986.0 1285.9 L988.0 1285.0 L990.0 1284.1 L992.0 1283.2 L994.0 1282.2 L996.0 1281.3 L998.0 1280.4 L1000.0 1279.5 L1002.0 1278.6 L1004.0 1277.7 L1004.8 1277.3 M1014.5 1272.9 L1016.0 1272.3 L1018.0 1271.4 L1020.0 1270.5 L1022.0 1269.7 L1024.0 1268.8 L1026.0 1268.0 L1028.0 1267.2 L1030.0 1266.4 L1032.0 1265.5 L1034.0 1264.8 L1036.0 1264.0 L1038.0 1263.2 L1039.6 1262.5 M1049.3 1258.9 L1050.0 1258.6 L1052.0 1257.9 L1054.0 1257.2 L1056.0 1256.5 L1058.0 1255.8 L1060.0 1255.1 L1062.0 1254.4 L1064.0 1253.7 L1066.0 1253.0 L1068.0 1252.3 L1070.0 1251.7 L1072.0 1251.0 L1074.0 1250.4 L1075.0 1250.0 M1086.1 1246.6 L1088.0 1246.0 L1090.0 1245.4 L1092.0 1244.8 L1094.0 1244.2 L1096.0 1243.6 L1098.0 1243.0 L1100.0 1242.4 L1102.0 1241.8 L1104.0 1241.2 L1106.0 1240.6 L1108.0 1240.0 L1110.0 1239.5 L1112.0 1238.9 L1112.2 1238.9 M1121.9 1236.2 L1122.0 1236.1 L1124.0 1235.6 L1126.0 1235.1 L1128.0 1234.5 L1130.0 1234.0 L1132.0 1233.4 L1134.0 1232.9 L1136.0 1232.4 L1138.0 1231.9 L1140.0 1231.3 L1142.0 1230.8 L1144.0 1230.3 L1146.0 1229.8 L1148.0 1229.3 L1148.2 1229.2 M1158.8 1226.6 L1160.0 1226.3 L1162.0 1225.8 L1164.0 1225.3 L1166.0 1224.8 L1168.0 1224.3 L1170.0 1223.9 L1172.0 1223.4 L1174.0 1222.9 L1176.0 1222.4 L1178.0 1222.0 L1180.0 1221.5 L1182.0 1221.0 L1184.0 1220.5 L1185.2 1220.3 M1195.8 1217.8 L1196.0 1217.8 L1198.0 1217.3 L1200.0 1216.9 L1202.0 1216.4 L1204.0 1216.0 L1206.0 1215.5 L1208.0 1215.1 L1210.0 1214.6 L1212.0 1214.2 L1214.0 1213.7 L1216.0 1213.3 L1218.0 1212.8 L1220.0 1212.4 L1222.0 1212.0 L1222.4 1211.9 M1232.8 1209.6 L1234.0 1209.3 L1236.0 1208.9 L1238.0 1208.5 L1240.0 1208.0 L1242.0 1207.6 L1244.0 1207.2 L1246.0 1206.7 L1248.0 1206.3 L1250.0 1205.9 L1252.0 1205.4 L1254.0 1205.0 L1256.0 1204.6 L1258.0 1204.2 L1259.4 1203.9 M1269.8 1201.6 L1270.0 1201.6 L1272.0 1201.2 L1274.0 1200.7 L1276.0 1200.3 L1278.0 1199.9 L1280.0 1199.4 L1282.0 1199.0 L1284.0 1198.6 L1286.0 1198.1 L1288.0 1197.7 L1290.0 1197.3 L1292.0 1196.8 L1294.0 1196.4 L1296.0 1196.0 L1296.4 1195.9 M1306.8 1193.6 L1308.0 1193.3 L1310.0 1192.9 L1312.0 1192.5 L1314.0 1192.0 L1316.0 1191.6 L1318.0 1191.1 L1320.0 1190.7 L1322.0 1190.2 L1324.0 1189.8 L1326.0 1189.3 L1328.0 1188.9 L1330.0 1188.4 L1332.0 1188.0 L1333.4 1187.6 M1343.8 1185.2 L1344.0 1185.2 L1346.0 1184.7 L1348.0 1184.3 L1350.0 1183.8 L1352.0 1183.4 L1354.0 1182.9 L1356.0 1182.4 L1358.0 1182.0 L1360.0 1181.5 L1362.0 1181.1 L1364.0 1180.6 L1366.0 1180.1 L1368.0 1179.7 L1370.0 1179.2 L1370.4 1179.1 M1380.9 1176.7 L1382.0 1176.4 L1384.0 1176.0 L1386.0 1175.5 L1388.0 1175.0 L1390.0 1174.6 L1392.0 1174.1 L1394.0 1173.7 L1396.0 1173.2 L1398.0 1172.8 L1400.0 1172.3 L1402.0 1171.9 L1404.0 1171.4 L1406.0 1171.0 L1407.5 1170.6 M1417.9 1168.3 L1418.0 1168.3 L1420.0 1167.8 L1422.0 1167.4 L1424.0 1166.9 L1426.0 1166.5 L1428.0 1166.1 L1430.0 1165.7 L1432.0 1165.2 L1434.0 1164.8 L1436.0 1164.4 L1438.0 1163.9 L1440.0 1163.5 L1442.0 1163.1 L1444.0 1162.7 L1444.5 1162.6 M1454.9 1160.4 L1456.0 1160.2 L1458.0 1159.8 L1460.0 1159.4 L1462.0 1159.0 L1464.0 1158.6 L1466.0 1158.2 L1468.0 1157.9 L1470.0 1157.5 L1472.0 1157.1 L1474.0 1156.7 L1476.0 1156.4 L1478.0 1156.0 L1480.0 1155.6 L1481.6 1155.3 M1491.6 1153.5 L1492.0 1153.5 L1494.0 1153.1 L1496.0 1152.8 L1498.0 1152.5 L1500.0 1152.1 L1502.0 1151.8 L1504.0 1151.5 L1506.0 1151.2 L1508.0 1150.9 L1510.0 1150.6 L1512.0 1150.2 L1514.0 1149.9 L1516.0 1149.6 L1518.0 1149.4 L1518.4 1149.3 M1529.0 1147.8 L1530.0 1147.7 L1532.0 1147.4 L1534.0 1147.1 L1536.0 1146.9 L1538.0 1146.6 L1540.0 1146.4 L1542.0 1146.1 L1544.0 1145.9 L1546.0 1145.6 L1548.0 1145.4 L1550.0 1145.2 L1552.0 1144.9 L1554.0 1144.7 L1556.0 1144.5 L1556.0 1144.5 M1566.7 1143.3 L1568.0 1143.2 L1570.0 1143.0 L1572.0 1142.8 L1574.0 1142.6 L1576.0 1142.4 L1578.0 1142.2 L1580.0 1142.0 L1582.0 1141.8 L1584.0 1141.6 L1586.0 1141.5 L1588.0 1141.3 L1590.0 1141.1 L1592.0 1140.9 L1593.7 1140.8 M1604.2 1140.0 L1606.0 1139.8 L1608.0 1139.7 L1610.0 1139.5 L1612.0 1139.4 L1614.0 1139.2 L1616.0 1139.1 L1618.0 1139.0 L1620.0 1138.8 L1622.0 1138.7 L1624.0 1138.6 L1626.0 1138.4 L1628.0 1138.3 L1630.0 1138.2 L1631.4 1138.1 M1641.7 1137.5 L1642.0 1137.5 L1644.0 1137.4 L1646.0 1137.3 L1648.0 1137.1 L1650.0 1137.0 L1652.0 1136.9 L1654.0 1136.8 L1656.0 1136.7 L1658.0 1136.6 L1660.0 1136.5 L1662.0 1136.5 L1664.0 1136.4 L1666.0 1136.3 L1668.0 1136.2 L1668.9 1136.1 M1679.8 1135.7 L1680.0 1135.7 L1682.0 1135.6 L1684.0 1135.5 L1686.0 1135.4 L1688.0 1135.3 L1690.0 1135.3 L1692.0 1135.2 L1694.0 1135.1 L1696.0 1135.0 L1698.0 1135.0 L1700.0 1134.9 L1702.0 1134.8 L1704.0 1134.8 L1706.0 1134.7 L1707.0 1134.7 M1717.3 1134.3 L1718.0 1134.3 L1720.0 1134.3 L1722.0 1134.2 L1724.0 1134.1 L1726.0 1134.1 L1728.0 1134.0 L1730.0 1133.9 L1732.0 1133.9 L1734.0 1133.8 L1736.0 1133.8 L1738.0 1133.7 L1740.0 1133.7 L1742.0 1133.6 L1744.0 1133.5 L1744.5 1133.5 M1754.9 1133.2 L1756.0 1133.2 L1758.0 1133.2 L1760.0 1133.1 L1762.0 1133.1 L1764.0 1133.0 L1766.0 1132.9 L1768.0 1132.9 L1770.0 1132.8 L1772.0 1132.8 L1774.0 1132.7 L1776.0 1132.7 L1778.0 1132.6 L1780.0 1132.6 L1782.0 1132.5 L1782.1 1132.5 M1793.1 1132.3 L1794.0 1132.3 L1796.0 1132.2 L1798.0 1132.2 L1800.0 1132.1 L1802.0 1132.1 L1804.0 1132.0 L1806.0 1132.0 L1808.0 1131.9 L1810.0 1131.9 L1812.0 1131.9 L1814.0 1131.8 L1816.0 1131.8 L1818.0 1131.7 L1820.0 1131.7 L1820.3 1131.7 M1830.7 1131.5 L1832.0 1131.4 L1834.0 1131.4 L1836.0 1131.4 L1838.0 1131.3 L1840.0 1131.3 L1842.0 1131.3 L1844.0 1131.2 L1846.0 1131.2 L1848.0 1131.1 L1850.0 1131.1 L1852.0 1131.1 L1854.0 1131.0 L1856.0 1131.0 L1857.9 1131.0 M1868.8 1130.8 L1870.0 1130.7 L1872.0 1130.7 L1874.0 1130.7 L1876.0 1130.6 L1878.0 1130.6 L1880.0 1130.6 L1882.0 1130.5 L1884.0 1130.5 L1886.0 1130.5 L1888.0 1130.4 L1890.0 1130.4 L1892.0 1130.4 L1894.0 1130.3 L1896.0 1130.3 M1906.3 1130.1 L1908.0 1130.1 L1910.0 1130.1 L1912.0 1130.1 L1914.0 1130.0 L1916.0 1130.0 L1918.0 1130.0 L1920.0 1129.9 L1922.0 1129.9 L1924.0 1129.9 L1926.0 1129.8 L1928.0 1129.8 L1930.0 1129.8 L1932.0 1129.8 L1933.5 1129.7 M1944.6 1129.6 L1946.0 1129.6 L1948.0 1129.5 L1950.0 1129.5 L1952.0 1129.5 L1954.0 1129.5 L1956.0 1129.4 L1958.0 1129.4 L1960.0 1129.4 L1962.0 1129.3 L1964.0 1129.3 L1966.0 1129.3 L1968.0 1129.3 L1970.0 1129.2 L1971.8 1129.2 M1982.9 1129.1 L1984.0 1129.1 L1986.0 1129.0 L1988.0 1129.0 L1990.0 1129.0 L1992.0 1129.0 L1994.0 1129.0 L1996.0 1128.9 L1998.0 1128.9 L2000.0 1128.9 L2002.0 1128.9 L2004.0 1128.8 L2006.0 1128.8 L2008.0 1128.8 L2010.0 1128.8 L2010.1 1128.8 M2020.6 1128.7 L2022.0 1128.6 L2024.0 1128.6 L2026.0 1128.6 L2028.0 1128.6 L2030.0 1128.6 L2032.0 1128.5 L2034.0 1128.5 L2036.0 1128.5 L2038.0 1128.5 L2040.0 1128.5 L2042.0 1128.4 L2044.0 1128.4 L2046.0 1128.4 L2047.8 1128.4 M2058.6 1128.3 L2060.0 1128.3 L2062.0 1128.3 L2064.0 1128.2 L2066.0 1128.2 L2068.0 1128.2 L2070.0 1128.2 L2072.0 1128.2 L2074.0 1128.2 L2076.0 1128.1 L2078.0 1128.1 L2080.0 1128.1 L2082.0 1128.1 L2084.0 1128.1 L2085.8 1128.1 M2096.3 1128.0 L2098.0 1128.0 L2100.0 1128.0 L2102.0 1128.0 L2104.0 1127.9 L2106.0 1127.9 L2108.0 1127.9 L2110.0 1127.9 L2112.0 1127.9 L2114.0 1127.9 L2116.0 1127.9 L2118.0 1127.8 L2120.0 1127.8 L2122.0 1127.8 L2123.5 1127.8 M2134.2 1127.8 L2136.0 1127.7 L2138.0 1127.7 L2140.0 1127.7 L2142.0 1127.7 L2144.0 1127.7 L2146.0 1127.7 L2148.0 1127.7 L2150.0 1127.7 L2152.0 1127.7 L2154.0 1127.7 L2156.0 1127.6 L2158.0 1127.6 L2160.0 1127.6 L2161.4 1127.6 M2171.9 1127.6 L2172.0 1127.6 L2174.0 1127.6 L2176.0 1127.6 L2178.0 1127.6 L2180.0 1127.6 L2182.0 1127.5 L2184.0 1127.5 L2186.0 1127.5 L2188.0 1127.5 L2190.0 1127.5 L2192.0 1127.5 L2194.0 1127.5 L2196.0 1127.5 L2198.0 1127.5 L2199.1 1127.5 M2209.9 1127.5 L2210.0 1127.5 L2212.0 1127.5 L2214.0 1127.5 L2216.0 1127.5 L2218.0 1127.5 L2220.0 1127.5 L2222.0 1127.5 L2224.0 1127.5 L2226.0 1127.5 L2228.0 1127.4 L2230.0 1127.4 L2232.0 1127.4 L2234.0 1127.4 L2236.0 1127.4 L2237.1 1127.4 M2247.6 1127.4 L2248.0 1127.4 L2250.0 1127.4 L2252.0 1127.4 L2254.0 1127.4 L2256.0 1127.4 L2258.0 1127.4 L2260.0 1127.4 L2262.0 1127.4 L2264.0 1127.4 L2266.0 1127.4 L2268.0 1127.4 L2270.0 1127.4 L2272.0 1127.4 L2274.0 1127.4 L2274.8 1127.4 M2286.2 1127.5 L2288.0 1127.5 L2290.0 1127.5 L2292.0 1127.5 L2294.0 1127.5 L2296.0 1127.5 L2298.0 1127.5 L2300.0 1127.5 L2302.0 1127.5 L2304.0 1127.5 L2306.0 1127.5 L2308.0 1127.5 L2310.0 1127.5 L2312.0 1127.5 L2313.4 1127.5"/>
<path id="p5" stroke="#7f6000" d="M386.0 1360.2 L388.0 1360.2 L390.0 1360.1 L392.0 1360.0 L394.0 1359.9 L396.0 1359.9 L398.0 1359.8 L400.0 1359.7 L402.0 1359.6 L404.0 1359.6 L406.0 1359.5 L408.0 1359.4 L410.0 1359.4 L412.0 1359.3 L414.0 1359.2 L416.0 1359.2 L418.0 1359.1 L420.0 1359.0 L422.0 1358.9 L424.0 1358.9 L426.0 1358.8 L428.0 1358.7 L430.0 1358.7 L432.0 1358.6 L434.0 1358.6 L436.0 1358.5 L438.0 1358.4 L440.0 1358.4 L442.0 1358.3 L444.0 1358.2 L446.0 1358.2 L448.0 1358.1 L450.0 1358.1 L452.0 1358.0 L454.0 1357.9 L456.0 1357.9 L458.0 1357.8 L460.0 1357.8 L462.0 1357.7 L464.0 1357.6 L466.0 1357.6 L468.0 1357.5 L470.0 1357.5 L472.0 1357.4 L474.0 1357.4 L476.0 1357.3 L478.0 1357.3 L480.0 1357.2 L482.0 1357.2 L484.0 1357.1 L486.0 1357.1 L488.0 1357.0 L490.0 1357.0 L492.0 1356.9 L494.0 1356.9 L496.0 1356.8 L498.0 1356.8 L500.0 1356.7 L502.0 1356.7 L504.0 1356.6 L506.0 1356.6 L508.0 1356.5 L510.0 1356.5 L512.0 1356.4 L514.0 1356.4 L516.0 1356.4 L518.0 1356.3 L520.0 1356.3 L522.0 1356.2 L524.0 1356.2 L526.0 1356.2 L528.0 1356.1 L530.0 1356.1 L532.0 1356.1 L534.0 1356.0 L536.0 1356.0 L538.0 1355.9 L540.0 1355.9 L542.0 1355.9 L544.0 1355.8 L546.0 1355.8 L548.0 1355.8 L550.0 1355.7 L552.0 1355.7 L554.0 1355.7 L556.0 1355.6 L558.0 1355.6 L560.0 1355.5 L562.0 1355.5 L564.0 1355.5 L566.0 1355.4 L568.0 1355.4 L570.0 1355.4 L572.0 1355.3 L574.0 1355.3 L576.0 1355.2 L578.0 1355.2 L580.0 1355.1 L582.0 1355.1 L584.0 1355.1 L586.0 1355.0 L588.0 1355.0 L590.0 1354.9 L592.0 1354.9 L594.0 1354.8 L596.0 1354.8 L598.0 1354.7 L600.0 1354.7 L602.0 1354.7 L604.0 1354.6 L606.0 1354.6 L608.0 1354.5 L610.0 1354.5 L612.0 1354.4 L614.0 1354.4 L616.0 1354.3 L618.0 1354.3 L620.0 1354.2 L622.0 1354.2 L624.0 1354.1 L626.0 1354.1 L628.0 1354.0 L630.0 1354.0 L632.0 1353.9 L634.0 1353.8 L636.0 1353.8 L638.0 1353.7 L640.0 1353.7 L642.0 1353.6 L644.0 1353.6 L646.0 1353.5 L648.0 1353.4 L650.0 1353.4 L652.0 1353.3 L654.0 1353.2 L656.0 1353.2 L658.0 1353.1 L660.0 1353.0 L662.0 1353.0 L664.0 1352.9 L666.0 1352.8 L668.0 1352.7 L670.0 1352.7 L672.0 1352.6 L674.0 1352.5 L676.0 1352.4 L678.0 1352.4 L680.0 1352.3 L682.0 1352.2 L684.0 1352.1 L686.0 1352.0 L688.0 1352.0 L690.0 1351.9 L692.0 1351.8 L694.0 1351.7 L696.0 1351.6 L698.0 1351.5 L700.0 1351.4 L702.0 1351.3 L704.0 1351.2 L706.0 1351.1 L708.0 1351.0 L710.0 1350.9 L712.0 1350.8 L714.0 1350.7 L716.0 1350.6 L718.0 1350.5 L720.0 1350.4 L722.0 1350.3 L724.0 1350.2 L726.0 1350.1 L728.0 1350.0 L730.0 1349.9 L732.0 1349.7 L734.0 1349.6 L736.0 1349.5 L738.0 1349.4 L740.0 1349.3 L742.0 1349.1 L744.0 1349.0 L746.0 1348.9 L748.0 1348.7 L750.0 1348.6 L752.0 1348.5 L754.0 1348.3 L756.0 1348.2 L758.0 1348.1 L760.0 1347.9 L762.0 1347.8 L764.0 1347.6 L766.0 1347.5 L768.0 1347.3 L770.0 1347.2 L772.0 1347.0 L774.0 1346.8 L776.0 1346.7 L778.0 1346.5 L780.0 1346.3 L782.0 1346.2 L784.0 1346.0 L786.0 1345.8 L788.0 1345.6 L790.0 1345.4 L792.0 1345.2 L794.0 1345.0 L796.0 1344.8 L798.0 1344.6 L800.0 1344.4 L802.0 1344.2 L804.0 1344.0 L806.0 1343.8 L808.0 1343.6 L810.0 1343.4 L812.0 1343.1 L814.0 1342.9 L816.0 1342.7 L818.0 1342.4 L820.0 1342.2 L822.0 1341.9 L824.0 1341.6 L826.0 1341.3 L828.0 1341.0 L830.0 1340.7 L832.0 1340.4 L834.0 1340.1 L836.0 1339.8 L838.0 1339.5 L840.0 1339.2 L842.0 1338.9 L844.0 1338.5 L846.0 1338.2 L848.0 1337.8 L850.0 1337.4 L852.0 1337.1 L854.0 1336.7 L856.0 1336.3 L858.0 1335.9 L860.0 1335.5 L862.0 1335.1 L864.0 1334.7 L866.0 1334.2 L868.0 1333.8 L870.0 1333.3 L872.0 1332.9 L874.0 1332.4 L876.0 1331.9 L878.0 1331.4 L880.0 1330.9 L882.0 1330.4 L884.0 1329.8 L886.0 1329.3 L888.0 1328.8 L890.0 1328.2 L892.0 1327.7 L894.0 1327.1 L896.0 1326.5 L898.0 1326.0 L900.0 1325.4 L902.0 1324.8 L904.0 1324.2 L906.0 1323.5 L908.0 1322.9 L910.0 1322.2 L912.0 1321.5 L914.0 1320.8 L916.0 1320.1 L918.0 1319.4 L920.0 1318.7 L922.0 1318.0 L924.0 1317.3 L926.0 1316.5 L928.0 1315.8 L930.0 1315.0 L932.0 1314.3 L934.0 1313.5 L936.0 1312.7 L938.0 1311.9 L940.0 1311.2 L942.0 1310.4 L944.0 1309.6 L946.0 1308.8 L948.0 1308.0 L950.0 1307.2 L952.0 1306.4 L954.0 1305.6 L956.0 1304.8 L958.0 1304.0 L960.0 1303.3 L962.0 1302.5 L964.0 1301.7 L966.0 1300.9 L968.0 1300.1 L970.0 1299.2 L972.0 1298.4 L974.0 1297.6 L976.0 1296.8 L978.0 1296.0 L980.0 1295.1 L982.0 1294.3 L984.0 1293.5 L986.0 1292.7 L988.0 1291.8 L990.0 1291.0 L992.0 1290.2 L994.0 1289.4 L996.0 1288.6 L998.0 1287.8 L1000.0 1287.0 L1002.0 1286.2 L1004.0 1285.4 L1006.0 1284.6 L1008.0 1283.9 L1010.0 1283.1 L1012.0 1282.4 L1014.0 1281.6 L1016.0 1280.9 L1018.0 1280.2 L1020.0 1279.5 L1022.0 1278.7 L1024.0 1278.0 L1026.0 1277.3 L1028.0 1276.6 L1030.0 1275.9 L1032.0 1275.2 L1034.0 1274.5 L1036.0 1273.8 L1038.0 1273.1 L1040.0 1272.4 L1042.0 1271.8 L1044.0 1271.1 L1046.0 1270.4 L1048.0 1269.8 L1050.0 1269.1 L1052.0 1268.5 L1054.0 1267.9 L1056.0 1267.2 L1058.0 1266.6 L1060.0 1266.0 L1062.0 1265.4 L1064.0 1264.8 L1066.0 1264.2 L1068.0 1263.6 L1070.0 1263.0 L1072.0 1262.4 L1074.0 1261.9 L1076.0 1261.3 L1078.0 1260.7 L1080.0 1260.2 L1082.0 1259.6 L1084.0 1259.1 L1086.0 1258.5 L1088.0 1258.0 L1090.0 1257.4 L1092.0 1256.9 L1094.0 1256.4 L1096.0 1255.9 L1098.0 1255.3 L1100.0 1254.8 L1102.0 1254.3 L1104.0 1253.8 L1106.0 1253.3 L1108.0 1252.8 L1110.0 1252.3 L1112.0 1251.9 L1114.0 1251.4 L1116.0 1250.9 L1118.0 1250.4 L1120.0 1250.0 L1122.0 1249.5 L1124.0 1249.1 L1126.0 1248.6 L1128.0 1248.2 L1130.0 1247.7 L1132.0 1247.3 L1134.0 1246.9 L1136.0 1246.4 L1138.0 1246.0 L1140.0 1245.6 L1142.0 1245.2 L1144.0 1244.8 L1146.0 1244.3 L1148.0 1243.9 L1150.0 1243.5 L1152.0 1243.1 L1154.0 1242.7 L1156.0 1242.3 L1158.0 1241.9 L1160.0 1241.5 L1162.0 1241.1 L1164.0 1240.7 L1166.0 1240.4 L1168.0 1240.0 L1170.0 1239.6 L1172.0 1239.2 L1174.0 1238.8 L1176.0 1238.4 L1178.0 1238.1 L1180.0 1237.7 L1182.0 1237.3 L1184.0 1237.0 L1186.0 1236.6 L1188.0 1236.3 L1190.0 1235.9 L1192.0 1235.5 L1194.0 1235.2 L1196.0 1234.8 L1198.0 1234.5 L1200.0 1234.1 L1202.0 1233.8 L1204.0 1233.4 L1206.0 1233.1 L1208.0 1232.7 L1210.0 1232.3 L1212.0 1232.0 L1214.0 1231.7 L1216.0 1231.3 L1218.0 1231.0 L1220.0 1230.6 L1222.0 1230.3 L1224.0 1229.9 L1226.0 1229.6 L1228.0 1229.2 L1230.0 1228.9 L1232.0 1228.5 L1234.0 1228.2 L1236.0 1227.8 L1238.0 1227.5 L1240.0 1227.1 L1242.0 1226.8 L1244.0 1226.4 L1246.0 1226.1 L1248.0 1225.7 L1250.0 1225.3 L1252.0 1225.0 L1254.0 1224.6 L1256.0 1224.3 L1258.0 1223.9 L1260.0 1223.5 L1262.0 1223.2 L1264.0 1222.8 L1266.0 1222.4 L1268.0 1222.0 L1270.0 1221.7 L1272.0 1221.3 L1274.0 1220.9 L1276.0 1220.5 L1278.0 1220.2 L1280.0 1219.8 L1282.0 1219.4 L1284.0 1219.0 L1286.0 1218.6 L1288.0 1218.2 L1290.0 1217.9 L1292.0 1217.5 L1294.0 1217.1 L1296.0 1216.7 L1298.0 1216.3 L1300.0 1215.9 L1302.0 1215.5 L1304.0 1215.1 L1306.0 1214.7 L1308.0 1214.3 L1310.0 1213.9 L1312.0 1213.5 L1314.0 1213.1 L1316.0 1212.7 L1318.0 1212.3 L1320.0 1211.9 L1322.0 1211.5 L1324.0 1211.0 L1326.0 1210.6 L1328.0 1210.2 L1330.0 1209.8 L1332.0 1209.4 L1334.0 1209.0 L1336.0 1208.5 L1338.0 1208.1 L1340.0 1207.7 L1342.0 1207.2 L1344.0 1206.8 L1346.0 1206.4 L1348.0 1205.9 L1350.0 1205.5 L1352.0 1205.1 L1354.0 1204.6 L1356.0 1204.2 L1358.0 1203.7 L1360.0 1203.3 L1362.0 1202.8 L1364.0 1202.4 L1366.0 1201.9 L1368.0 1201.5 L1370.0 1201.0 L1372.0 1200.5 L1374.0 1200.1 L1376.0 1199.6 L1378.0 1199.2 L1380.0 1198.7 L1382.0 1198.3 L1384.0 1197.8 L1386.0 1197.3 L1388.0 1196.8 L1390.0 1196.4 L1392.0 1195.9 L1394.0 1195.4 L1396.0 1194.9 L1398.0 1194.5 L1400.0 1194.0 L1402.0 1193.5 L1404.0 1193.0 L1406.0 1192.5 L1408.0 1192.0 L1410.0 1191.5 L1412.0 1191.0 L1414.0 1190.6 L1416.0 1190.1 L1418.0 1189.6 L1420.0 1189.1 L1422.0 1188.6 L1424.0 1188.2 L1426.0 1187.7 L1428.0 1187.2 L1430.0 1186.7 L1432.0 1186.2 L1434.0 1185.8 L1436.0 1185.3 L1438.0 1184.8 L1440.0 1184.4 L1442.0 1183.9 L1444.0 1183.5 L1446.0 1183.1 L1448.0 1182.6 L1450.0 1182.2 L1452.0 1181.8 L1454.0 1181.4 L1456.0 1181.0 L1458.0 1180.6 L1460.0 1180.2 L1462.0 1179.9 L1464.0 1179.5 L1466.0 1179.1 L1468.0 1178.7 L1470.0 1178.4 L1472.0 1178.0 L1474.0 1177.7 L1476.0 1177.3 L1478.0 1177.0 L1480.0 1176.7 L1482.0 1176.3 L1484.0 1176.0 L1486.0 1175.7 L1488.0 1175.4 L1490.0 1175.1 L1492.0 1174.8 L1494.0 1174.5 L1496.0 1174.2 L1498.0 1173.9 L1500.0 1173.7 L1502.0 1173.4 L1504.0 1173.1 L1506.0 1172.9 L1508.0 1172.6 L1510.0 1172.3 L1512.0 1172.1 L1514.0 1171.9 L1516.0 1171.6 L1518.0 1171.4 L1520.0 1171.1 L1522.0 1170.9 L1524.0 1170.7 L1526.0 1170.5 L1528.0 1170.3 L1530.0 1170.0 L1532.0 1169.8 L1534.0 1169.6 L1536.0 1169.4 L1538.0 1169.2 L1540.0 1169.0 L1542.0 1168.8 L1544.0 1168.7 L1546.0 1168.5 L1548.0 1168.3 L1550.0 1168.1 L1552.0 1167.9 L1554.0 1167.7 L1556.0 1167.6 L1558.0 1167.4 L1560.0 1167.2 L1562.0 1167.1 L1564.0 1166.9 L1566.0 1166.7 L1568.0 1166.6 L1570.0 1166.4 L1572.0 1166.3 L1574.0 1166.1 L1576.0 1166.0 L1578.0 1165.8 L1580.0 1165.7 L1582.0 1165.5 L1584.0 1165.4 L1586.0 1165.2 L1588.0 1165.1 L1590.0 1164.9 L1592.0 1164.8 L1594.0 1164.7 L1596.0 1164.5 L1598.0 1164.4 L1600.0 1164.3 L1602.0 1164.1 L1604.0 1164.0 L1606.0 1163.9 L1608.0 1163.7 L1610.0 1163.6 L1612.0 1163.5 L1614.0 1163.3 L1616.0 1163.2 L1618.0 1163.1 L1620.0 1163.0 L1622.0 1162.9 L1624.0 1162.7 L1626.0 1162.6 L1628.0 1162.5 L1630.0 1162.4 L1632.0 1162.3 L1634.0 1162.1 L1636.0 1162.0 L1638.0 1161.9 L1640.0 1161.8 L1642.0 1161.7 L1644.0 1161.6 L1646.0 1161.5 L1648.0 1161.4 L1650.0 1161.2 L1652.0 1161.1 L1654.0 1161.0 L1656.0 1160.9 L1658.0 1160.8 L1660.0 1160.7 L1662.0 1160.6 L1664.0 1160.5 L1666.0 1160.4 L1668.0 1160.3 L1670.0 1160.2 L1672.0 1160.1 L1674.0 1160.0 L1676.0 1159.9 L1678.0 1159.8 L1680.0 1159.7 L1682.0 1159.6 L1684.0 1159.5 L1686.0 1159.5 L1688.0 1159.4 L1690.0 1159.3 L1692.0 1159.2 L1694.0 1159.1 L1696.0 1159.0 L1698.0 1159.0 L1700.0 1158.9 L1702.0 1158.8 L1704.0 1158.7 L1706.0 1158.6 L1708.0 1158.6 L1710.0 1158.5 L1712.0 1158.4 L1714.0 1158.4 L1716.0 1158.3 L1718.0 1158.2 L1720.0 1158.1 L1722.0 1158.1 L1724.0 1158.0 L1726.0 1157.9 L1728.0 1157.8 L1730.0 1157.8 L1732.0 1157.7 L1734.0 1157.6 L1736.0 1157.6 L1738.0 1157.5 L1740.0 1157.4 L1742.0 1157.4 L1744.0 1157.3 L1746.0 1157.2 L1748.0 1157.2 L1750.0 1157.1 L1752.0 1157.0 L1754.0 1157.0 L1756.0 1156.9 L1758.0 1156.8 L1760.0 1156.8 L1762.0 1156.7 L1764.0 1156.7 L1766.0 1156.6 L1768.0 1156.5 L1770.0 1156.5 L1772.0 1156.4 L1774.0 1156.4 L1776.0 1156.3 L1778.0 1156.3 L1780.0 1156.2 L1782.0 1156.2 L1784.0 1156.1 L1786.0 1156.1 L1788.0 1156.0 L1790.0 1156.0 L1792.0 1155.9 L1794.0 1155.9 L1796.0 1155.8 L1798.0 1155.8 L1800.0 1155.8 L1802.0 1155.7 L1804.0 1155.7 L1806.0 1155.6 L1808.0 1155.6 L1810.0 1155.6 L1812.0 1155.5 L1814.0 1155.5 L1816.0 1155.5 L1818.0 1155.4 L1820.0 1155.4 L1822.0 1155.4 L1824.0 1155.3 L1826.0 1155.3 L1828.0 1155.3 L1830.0 1155.2 L1832.0 1155.2 L1834.0 1155.2 L1836.0 1155.1 L1838.0 1155.1 L1840.0 1155.1 L1842.0 1155.0 L1844.0 1155.0 L1846.0 1155.0 L1848.0 1154.9 L1850.0 1154.9 L1852.0 1154.9 L1854.0 1154.8 L1856.0 1154.8 L1858.0 1154.8 L1860.0 1154.8 L1862.0 1154.7 L1864.0 1154.7 L1866.0 1154.7 L1868.0 1154.7 L1870.0 1154.6 L1872.0 1154.6 L1874.0 1154.6 L1876.0 1154.6 L1878.0 1154.5 L1880.0 1154.5 L1882.0 1154.5 L1884.0 1154.5 L1886.0 1154.5 L1888.0 1154.4 L1890.0 1154.4 L1892.0 1154.4 L1894.0 1154.4 L1896.0 1154.4 L1898.0 1154.3 L1900.0 1154.3 L1902.0 1154.3 L1904.0 1154.3 L1906.0 1154.3 L1908.0 1154.3 L1910.0 1154.3 L1912.0 1154.2 L1914.0 1154.2 L1916.0 1154.2 L1918.0 1154.2 L1920.0 1154.2 L1922.0 1154.2 L1924.0 1154.2 L1926.0 1154.2 L1928.0 1154.2 L1930.0 1154.1 L1932.0 1154.1 L1934.0 1154.1 L1936.0 1154.1 L1938.0 1154.1 L1940.0 1154.1 L1942.0 1154.1 L1944.0 1154.1 L1946.0 1154.1 L1948.0 1154.1 L1950.0 1154.1 L1952.0 1154.0 L1954.0 1154.0 L1956.0 1154.0 L1958.0 1154.0 L1960.0 1154.0 L1962.0 1154.0 L1964.0 1154.0 L1966.0 1154.0 L1968.0 1154.0 L1970.0 1154.0 L1972.0 1154.0 L1974.0 1154.0 L1976.0 1154.0 L1978.0 1154.0 L1980.0 1154.0 L1982.0 1154.0 L1984.0 1154.0 L1986.0 1154.0 L1988.0 1154.0 L1990.0 1154.0 L1992.0 1154.0 L1994.0 1154.0 L1996.0 1154.0 L1998.0 1154.0 L2000.0 1154.0 L2002.0 1154.0 L2004.0 1154.0 L2006.0 1154.0 L2008.0 1154.0 L2010.0 1154.0 L2012.0 1154.0 L2014.0 1154.0 L2016.0 1154.0 L2018.0 1154.0 L2020.0 1154.0 L2022.0 1154.0 L2024.0 1154.0 L2026.0 1154.0 L2028.0 1154.0 L2030.0 1154.0 L2032.0 1154.0 L2034.0 1154.0 L2036.0 1154.0 L2038.0 1154.0 L2040.0 1154.0 L2042.0 1154.0 L2044.0 1154.0 L2046.0 1154.0 L2048.0 1154.0 L2050.0 1154.0 L2052.0 1154.1 L2054.0 1154.1 L2056.0 1154.1 L2058.0 1154.1 L2060.0 1154.1 L2062.0 1154.1 L2064.0 1154.1 L2066.0 1154.1 L2068.0 1154.1 L2070.0 1154.1 L2072.0 1154.1 L2074.0 1154.1 L2076.0 1154.1 L2078.0 1154.1 L2080.0 1154.1 L2082.0 1154.1 L2084.0 1154.1 L2086.0 1154.1 L2088.0 1154.1 L2090.0 1154.1 L2092.0 1154.1 L2094.0 1154.1 L2096.0 1154.1 L2098.0 1154.1 L2100.0 1154.1 L2102.0 1154.1 L2104.0 1154.1 L2106.0 1154.1 L2108.0 1154.1 L2110.0 1154.1 L2112.0 1154.1 L2114.0 1154.1 L2116.0 1154.1 L2118.0 1154.1 L2120.0 1154.1 L2122.0 1154.1 L2124.0 1154.1 L2126.0 1154.1 L2128.0 1154.1 L2130.0 1154.1 L2132.0 1154.1 L2134.0 1154.1 L2136.0 1154.1 L2138.0 1154.0 L2140.0 1154.0 L2142.0 1154.0 L2144.0 1154.0 L2146.0 1154.0 L2148.0 1154.0 L2150.0 1154.0 L2152.0 1154.0 L2154.0 1154.0 L2156.0 1154.0 L2158.0 1154.0 L2160.0 1154.0 L2162.0 1154.0 L2164.0 1154.0 L2166.0 1154.0 L2168.0 1154.0 L2170.0 1154.0 L2172.0 1154.0 L2174.0 1153.9 L2176.0 1153.9 L2178.0 1153.9 L2180.0 1153.9 L2182.0 1153.9 L2184.0 1153.9 L2186.0 1153.9 L2188.0 1153.9 L2190.0 1153.9 L2192.0 1153.9 L2194.0 1153.9 L2196.0 1153.9 L2198.0 1153.8 L2200.0 1153.8 L2202.0 1153.8 L2204.0 1153.8 L2206.0 1153.8 L2208.0 1153.8 L2210.0 1153.8 L2212.0 1153.8 L2214.0 1153.8 L2216.0 1153.8 L2218.0 1153.7 L2220.0 1153.7 L2222.0 1153.7 L2224.0 1153.7 L2226.0 1153.7 L2228.0 1153.7 L2230.0 1153.7 L2232.0 1153.7 L2234.0 1153.7 L2236.0 1153.6 L2238.0 1153.6 L2240.0 1153.6 L2242.0 1153.6 L2244.0 1153.6 L2246.0 1153.6 L2248.0 1153.6 L2250.0 1153.6 L2252.0 1153.5 L2254.0 1153.5 L2256.0 1153.5 L2258.0 1153.5 L2260.0 1153.5 L2262.0 1153.5 L2264.0 1153.5 L2266.0 1153.5 L2268.0 1153.4 L2270.0 1153.4 L2272.0 1153.4 L2274.0 1153.4 L2276.0 1153.4 L2278.0 1153.4 L2280.0 1153.4 L2282.0 1153.3 L2284.0 1153.3 L2286.0 1153.3 L2288.0 1153.3 L2290.0 1153.3 L2292.0 1153.3 L2294.0 1153.2 L2296.0 1153.2 L2298.0 1153.2 L2300.0 1153.2 L2302.0 1153.2 L2304.0 1153.2 L2306.0 1153.2 L2308.0 1153.1 L2310.0 1153.1 L2312.0 1153.1 L2314.0 1153.1 L2316.0 1153.1 L2317.0 1153.1"/>
</g>
<g id="legend">
<rect x="433.7" y="80.9" width="804.6" height="451.1" fill="#fff" stroke="#808080" stroke-width="6"/>
<path d="M525.3 126.6H698.9" stroke="#ff0000" stroke-width="9.4" fill="none" stroke-dasharray="75.2 28.2 9.4 28.2 9.4 28.2"/>
<path d="M525.3 218.2H696.0" stroke="#00b050" stroke-width="9.4" fill="none" stroke-dasharray="9.5 9.5"/>
<path d="M525.3 306.6H698.9" stroke="#0070c0" stroke-width="9.4" fill="none" stroke-dasharray="76 28.5 9.5 28.5"/>
<path d="M525.3 397.9H698.9" stroke="#000" stroke-width="9.4" fill="none" stroke-dasharray="28.5 9.4"/>
<path d="M525.3 486.3H698.9" stroke="#7f6000" stroke-width="9.4" fill="none"/>
</g>
<g id="labels" font-family="'Liberation Serif', 'Times New Roman', serif" fill="#000">
<text y="147.6" font-size="72"><tspan x="708.8" textLength="220.9">Helium</tspan> <tspan x="943.8" textLength="99.7">gas</tspan></text>
<text y="239.0" font-size="72"><tspan x="709.0" textLength="225.2">Particle</tspan> <tspan x="952.0" textLength="56.5">(2</tspan> <tspan x="1028.2" textLength="125.4" lengthAdjust="spacingAndGlyphs">μm)</tspan></text>
<text y="327.5" font-size="72"><tspan x="709.0" textLength="225.2">Particle</tspan> <tspan x="952.0" textLength="55.4">(3</tspan> <tspan x="1028.2" textLength="125.4" lengthAdjust="spacingAndGlyphs">μm)</tspan></text>
<text y="418.0" font-size="72"><tspan x="709.0" textLength="225.2">Particle</tspan> <tspan x="952.0" textLength="53.7">(4</tspan> <tspan x="1028.2" textLength="125.4" lengthAdjust="spacingAndGlyphs">μm)</tspan></text>
<text y="509.2" font-size="72"><tspan x="709.0" textLength="225.2">Particle</tspan> <tspan x="952.0" textLength="55.4">(5</tspan> <tspan x="1028.2" textLength="125.4" lengthAdjust="spacingAndGlyphs">μm)</tspan></text>
<text x="122.7 171.3 215.5 262.8" y="77.0" font-size="90">2000</text>
<text x="122.5 168.7 215.5 262.8" y="408.0" font-size="90">1500</text>
<text x="122.5 171.3 215.5 262.8" y="736.3" font-size="90">1000</text>
<text x="169.0 215.5 262.8" y="1064.4" font-size="90">500</text>
<text x="262.4" y="1395.5" font-size="90">0</text>
<text x="364.0" y="1503.3" font-size="90">0</text>
<text x="683.9" y="1503.3" font-size="90">5</text>
<text x="979.2 1030.1" y="1503.3" font-size="90">10</text>
<text x="1301.6 1351.5" y="1503.3" font-size="90">15</text>
<text x="1626.4 1674.2" y="1503.3" font-size="90">20</text>
<text x="1948.2 1995.6" y="1503.3" font-size="90">25</text>
<text x="2264.7 2314.4" y="1503.3" font-size="90">30</text>
<text y="1626.8" font-size="90"><tspan x="959.8" textLength="196.3">Axial</tspan> <tspan x="1186.7" textLength="313.6">Location</tspan> <tspan x="1537.0" textLength="203.9">(mm)</tspan></text>
<text transform="translate(83.5 1000.0) rotate(-90)" font-size="90"><tspan x="41.2" textLength="299.7">Velocity</tspan> <tspan x="369.9" textLength="192.1">(m/s)</tspan></text>
</g>
</svg>
</body>
</html>
